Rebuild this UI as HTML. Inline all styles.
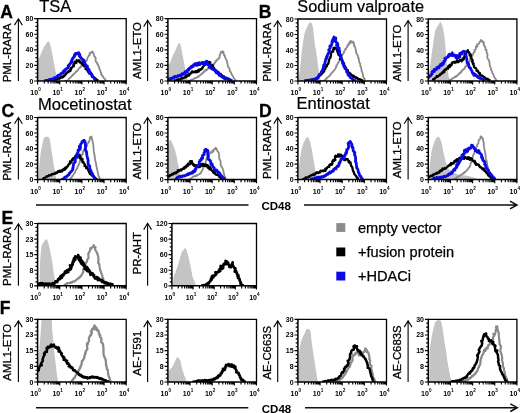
<!DOCTYPE html>
<html><head><meta charset="utf-8"><style>
html,body{margin:0;padding:0;background:#fff;}
svg{display:block;will-change:transform;filter:blur(0.3px);}
text{font-family:"Liberation Sans", sans-serif;}
.tl{font-size:7px;font-weight:bold;}
.sup{font-size:4.6px;font-weight:bold;}
.yl{font-size:11.4px;stroke:#000;stroke-width:0.3px;}
.big{font-size:16.5px;stroke:#000;stroke-width:0.2px;}
.let{font-size:17.5px;font-weight:bold;stroke:#000;stroke-width:0.3px;}
.lg{font-size:14.6px;stroke:#000;stroke-width:0.25px;}
.cd{font-size:11.5px;font-weight:bold;}
</style></head><body>
<svg width="520" height="413" viewBox="0 0 520 413">
<rect width="520" height="413" fill="#fff"/>
<clipPath id="c1"><rect x="37.60" y="18.60" width="88.60" height="62.40"/></clipPath>
<g clip-path="url(#c1)">
<path d="M37.6,81.0 L37.6,81.0 L38.0,58.7 L38.5,58.5 L38.9,58.4 L39.4,57.4 L39.8,56.5 L40.3,55.4 L40.7,54.4 L41.1,53.5 L41.6,51.7 L42.0,50.7 L42.5,50.5 L42.9,49.1 L43.4,48.6 L43.8,47.0 L44.2,46.6 L44.7,46.1 L45.1,45.0 L45.6,45.0 L46.0,44.4 L46.5,43.0 L46.9,42.3 L47.3,42.3 L47.8,42.3 L48.2,41.6 L48.7,41.6 L49.1,42.3 L49.6,42.7 L50.0,44.0 L50.4,45.5 L50.9,47.2 L51.3,49.0 L51.8,51.3 L52.2,53.7 L52.7,56.4 L53.1,58.6 L53.5,60.7 L54.0,63.7 L54.4,65.8 L54.9,68.2 L55.3,70.1 L55.8,72.7 L56.2,74.8 L56.6,76.7 L57.1,78.9 L57.5,81.0 L57.5,81.0 Z" fill="#c4c4c4"/>
<path d="M64.2,81.0 64.6,81.0 65.1,81.0 65.5,81.0 66.0,81.0 66.5,81.0 66.8,80.9 67.3,80.6 67.8,79.9 68.3,79.9 68.6,79.3 69.0,78.5 69.5,78.6 70.0,77.7 70.5,77.7 70.8,77.0 71.4,76.6 71.7,76.1 71.9,75.6 72.7,74.8 73.1,75.2 73.3,74.1 74.2,73.8 74.4,73.6 74.6,73.3 75.6,72.4 75.7,72.1 76.2,71.3 76.2,71.6 77.3,71.0 77.7,70.7 77.9,70.1 78.3,69.4 79.1,68.3 79.0,68.5 79.7,68.0 80.0,67.3 80.7,67.1 81.0,66.8 81.2,65.5 82.0,65.3 82.6,65.9 83.1,65.4 83.5,64.1 83.3,64.4 83.6,62.9 84.3,63.7 85.1,62.2 85.0,62.1 85.9,61.2 86.1,60.6 86.7,60.8 87.2,59.2 87.5,57.6 87.8,57.3 89.0,55.8 88.7,55.6 89.8,55.1 89.4,53.4 90.6,52.9 91.0,52.3 91.3,52.8 92.2,51.6 92.1,52.6 92.7,51.8 93.1,52.7 93.6,53.5 93.6,54.1 94.7,57.0 95.1,56.9 95.7,58.0 95.5,59.8 95.6,60.0 96.0,62.1 97.4,63.0 97.1,63.6 98.3,65.1 98.3,65.9 98.6,66.6 99.3,67.6 99.4,69.2 100.2,70.1 100.5,71.6 101.2,72.8 101.1,74.4 101.7,74.5 102.4,76.0 102.6,76.1 103.3,77.0 103.5,77.8 104.1,78.3 104.7,78.7 105.0,79.1 105.3,79.6 105.7,80.7 106.3,81.0" fill="none" stroke="#8a8a8a" stroke-width="1.8" stroke-linejoin="round"/>
<path d="M44.2,81.0 44.7,81.0 45.1,81.0 45.5,80.7 46.1,81.0 46.7,81.0 46.9,80.4 47.1,80.3 48.0,80.2 48.4,80.8 48.7,80.3 49.1,80.7 49.4,80.4 49.9,79.9 50.5,80.6 50.9,80.6 51.5,79.9 51.5,80.4 52.0,80.1 52.9,79.6 53.0,79.4 53.5,80.2 53.8,79.3 54.6,79.3 55.1,79.1 55.6,79.2 55.7,79.6 56.2,78.8 56.7,78.6 56.8,78.4 57.4,79.2 57.9,78.6 58.1,78.2 59.2,78.7 59.0,78.6 59.8,77.5 60.2,78.3 60.8,77.8 61.1,77.1 61.3,77.0 61.8,76.5 62.4,77.5 63.0,76.8 63.2,77.0 63.6,75.7 64.5,75.4 64.4,76.0 65.1,74.7 65.6,74.7 65.5,73.8 65.9,73.3 66.4,73.5 67.4,72.1 68.1,72.1 68.6,72.0 68.6,70.9 68.5,71.7 69.1,71.6 70.6,70.7 70.1,70.3 70.8,68.1 71.0,69.4 71.2,68.7 71.5,68.1 73.2,65.9 73.7,66.4 73.9,65.8 73.4,64.7 73.8,63.3 75.1,63.4 74.6,61.6 76.2,63.0 76.2,61.5 76.5,61.9 76.8,60.4 76.7,60.0 77.8,61.0 77.7,60.9 78.2,60.5 78.9,60.2 79.5,62.3 80.3,61.5 79.8,61.5 81.0,62.6 81.4,63.4 82.3,63.9 82.3,63.2 82.4,64.3 83.3,64.6 84.3,66.4 84.3,65.3 83.9,65.3 85.6,67.1 85.8,66.8 85.6,69.1 86.8,69.2 87.0,69.1 87.3,70.5 88.2,71.3 88.2,72.0 88.2,71.0 89.1,71.6 88.9,73.2 90.1,73.5 90.3,73.4 91.0,73.6 91.7,73.9 91.8,75.6 92.5,75.2 92.2,76.7 93.3,76.9 93.6,77.2 94.2,77.3 94.2,78.4 94.7,78.6 95.1,78.3 95.9,78.7 95.9,79.8 96.5,79.8 96.9,79.7 97.5,80.1 97.7,80.1 98.0,80.8" fill="none" stroke="#000" stroke-width="2.3" stroke-linejoin="round"/>
<path d="M44.2,81.0 44.8,81.0 45.0,81.0 45.6,80.5 46.1,80.4 46.6,80.3 47.1,80.8 47.4,80.9 48.0,80.3 48.3,80.5 48.5,80.0 49.3,79.6 49.7,79.5 50.3,79.8 50.7,79.9 50.9,79.2 51.2,79.5 51.7,79.3 51.9,79.2 52.6,78.9 53.0,78.6 53.7,78.9 54.1,78.4 54.3,78.1 54.7,77.5 55.6,77.9 55.8,77.8 56.2,77.8 56.6,77.3 57.5,76.9 57.3,76.0 58.0,76.1 58.0,75.3 58.8,75.0 59.6,74.7 60.0,74.6 60.4,74.7 60.9,73.7 61.2,73.6 61.4,73.2 62.1,72.9 62.7,73.1 63.1,72.6 63.4,72.2 63.5,71.0 64.6,71.3 64.2,70.6 65.0,70.8 65.0,69.7 66.3,69.4 66.2,68.8 66.2,68.8 67.9,68.0 67.6,67.9 68.3,67.3 68.2,65.6 68.7,66.5 70.0,63.8 69.7,64.1 70.7,63.2 71.1,61.5 71.8,62.1 71.9,60.0 72.3,59.0 73.1,57.8 72.8,58.8 74.3,56.0 74.5,56.5 75.0,53.9 74.5,55.0 75.7,53.9 75.2,54.3 75.6,53.5 76.5,54.2 77.4,54.0 77.1,53.2 77.3,53.3 78.7,52.7 79.2,53.9 79.6,54.2 79.4,56.2 80.0,55.2 79.9,57.0 80.3,56.9 82.1,58.7 81.1,58.2 82.9,60.1 83.0,61.4 83.8,60.2 84.0,60.2 84.0,60.7 84.4,62.3 84.6,62.1 85.4,64.4 85.5,64.5 86.1,65.5 87.4,66.1 86.6,67.9 88.1,68.4 88.0,68.3 89.1,69.9 89.4,70.5 89.0,72.1 89.4,73.2 90.5,72.5 90.6,73.1 91.2,73.9 92.0,75.5 91.7,75.0 92.2,76.6 92.7,76.5 93.1,76.8 94.0,78.0 94.5,78.6 94.7,79.2 95.5,79.7 95.5,80.3 96.3,80.3" fill="none" stroke="#0a0ae6" stroke-width="2.8" stroke-linejoin="round"/>
</g>
<path d="M37.60,18.60 H126.20 V81.00" fill="none" stroke="#000" stroke-width="1.3"/>
<path d="M37.60,18.10 V81.00 H126.70" fill="none" stroke="#000" stroke-width="1.5"/>
<path d="M34.20,81.00 H37.60 M35.40,77.10 H37.60 M35.40,73.20 H37.60 M35.40,69.30 H37.60 M34.20,65.40 H37.60 M35.40,61.50 H37.60 M35.40,57.60 H37.60 M35.40,53.70 H37.60 M34.20,49.80 H37.60 M35.40,45.90 H37.60 M35.40,42.00 H37.60 M35.40,38.10 H37.60 M34.20,34.20 H37.60 M35.40,30.30 H37.60 M35.40,26.40 H37.60 M35.40,22.50 H37.60 M34.20,18.60 H37.60 M37.60,81.00 V84.60 M44.27,81.00 V83.60 M48.17,81.00 V83.60 M50.94,81.00 V83.60 M53.08,81.00 V83.60 M54.84,81.00 V83.60 M56.32,81.00 V83.60 M57.60,81.00 V83.60 M58.74,81.00 V83.60 M59.75,81.00 V84.60 M66.42,81.00 V83.60 M70.32,81.00 V83.60 M73.09,81.00 V83.60 M75.23,81.00 V83.60 M76.99,81.00 V83.60 M78.47,81.00 V83.60 M79.75,81.00 V83.60 M80.89,81.00 V83.60 M81.90,81.00 V84.60 M88.57,81.00 V83.60 M92.47,81.00 V83.60 M95.24,81.00 V83.60 M97.38,81.00 V83.60 M99.14,81.00 V83.60 M100.62,81.00 V83.60 M101.90,81.00 V83.60 M103.04,81.00 V83.60 M104.05,81.00 V84.60 M110.72,81.00 V83.60 M114.62,81.00 V83.60 M117.39,81.00 V83.60 M119.53,81.00 V83.60 M121.29,81.00 V83.60 M122.77,81.00 V83.60 M124.05,81.00 V83.60 M125.19,81.00 V83.60 M126.20,81.00 V84.60" stroke="#000" stroke-width="1.15" fill="none"/>
<text x="33.30" y="83.50" text-anchor="end" class="tl">0</text>
<text x="33.30" y="67.90" text-anchor="end" class="tl">20</text>
<text x="33.30" y="52.30" text-anchor="end" class="tl">40</text>
<text x="33.30" y="36.70" text-anchor="end" class="tl">60</text>
<text x="33.30" y="21.10" text-anchor="end" class="tl">80</text>
<text x="38.10" y="94.90" text-anchor="end" class="tl">10</text>
<text x="38.20" y="91.10" class="sup">0</text>
<text x="60.25" y="94.90" text-anchor="end" class="tl">10</text>
<text x="60.35" y="91.10" class="sup">1</text>
<text x="82.40" y="94.90" text-anchor="end" class="tl">10</text>
<text x="82.50" y="91.10" class="sup">2</text>
<text x="104.55" y="94.90" text-anchor="end" class="tl">10</text>
<text x="104.65" y="91.10" class="sup">3</text>
<text x="126.70" y="94.90" text-anchor="end" class="tl">10</text>
<text x="126.80" y="91.10" class="sup">4</text>
<text transform="translate(11.10,52.80) rotate(-90)" text-anchor="middle" class="yl">PML-RARA</text>
<path d="M18.40,81.00 V18.80 M14.50,25.10 L18.40,18.80 L22.30,25.10" fill="none" stroke="#000" stroke-width="1.1"/>
<clipPath id="c2"><rect x="167.90" y="18.60" width="88.60" height="62.40"/></clipPath>
<g clip-path="url(#c2)">
<path d="M167.9,81.0 L167.9,75.5 L168.3,64.6 L168.8,63.4 L169.2,63.4 L169.7,63.7 L170.1,62.8 L170.6,61.6 L171.0,60.2 L171.4,59.3 L171.9,58.1 L172.3,56.9 L172.8,55.5 L173.2,54.7 L173.7,53.7 L174.1,53.1 L174.5,52.5 L175.0,51.6 L175.4,50.4 L175.9,49.4 L176.3,48.3 L176.8,47.0 L177.2,45.9 L177.6,45.2 L178.1,44.1 L178.5,43.3 L179.0,43.3 L179.4,42.9 L179.9,43.5 L180.3,44.3 L180.7,45.8 L181.2,47.9 L181.6,49.6 L182.1,52.1 L182.5,54.8 L183.0,56.9 L183.4,58.9 L183.8,61.8 L184.3,64.0 L184.7,66.2 L185.2,68.5 L185.6,70.5 L186.1,72.5 L186.5,74.2 L186.9,76.5 L187.4,78.7 L187.8,80.9 L187.8,81.0 Z" fill="#c4c4c4"/>
<path d="M187.8,81.0 188.4,81.0 188.7,80.7 189.3,80.6 189.7,80.5 190.2,80.2 190.5,80.4 191.1,80.0 191.4,80.0 191.8,79.5 192.1,79.6 192.6,79.5 193.1,79.3 193.7,79.1 194.0,78.6 194.5,78.5 194.8,78.1 195.5,78.0 195.6,77.9 196.3,77.8 196.6,77.7 196.9,77.4 197.5,77.1 198.2,76.5 198.5,76.2 198.8,76.5 199.5,75.7 199.9,75.6 200.2,75.0 200.8,74.8 201.4,74.3 201.7,73.9 201.9,73.4 202.2,73.8 203.0,72.7 203.0,72.4 203.5,72.6 204.1,71.1 204.8,71.4 205.0,70.4 205.5,69.9 206.2,70.5 206.6,70.3 207.0,70.0 207.1,69.1 207.6,69.0 208.2,68.0 208.4,68.7 209.0,68.0 209.2,67.6 209.8,67.8 210.4,67.0 210.9,65.8 210.9,65.6 211.5,65.1 212.3,64.8 213.1,65.0 213.5,65.3 213.5,63.8 214.1,63.4 214.7,63.5 214.6,63.2 215.3,62.3 215.3,61.2 215.8,61.4 216.4,61.4 216.7,59.9 217.2,59.6 217.9,59.5 218.6,58.5 219.3,57.6 219.5,58.0 219.7,55.9 219.7,54.9 220.6,53.6 220.6,52.1 221.4,52.2 222.4,51.2 222.2,51.6 222.7,52.8 223.5,52.0 223.5,53.1 224.3,55.5 224.6,55.2 225.0,57.0 225.6,57.9 225.7,58.9 226.8,60.8 227.1,61.7 227.3,63.3 227.7,65.1 228.1,66.9 228.3,67.2 229.3,68.2 229.8,69.9 229.6,70.9 230.6,71.7 230.8,72.6 231.2,73.0 231.6,74.3 232.1,74.8 232.7,76.0 233.2,76.8 233.3,77.1 233.8,78.0 234.4,78.7 234.8,79.7 235.1,80.2 235.9,80.3 236.1,80.5 236.6,81.0" fill="none" stroke="#8a8a8a" stroke-width="1.8" stroke-linejoin="round"/>
<path d="M174.5,81.0 174.8,80.5 175.7,81.0 175.7,80.7 176.2,80.2 176.9,80.4 177.2,80.1 177.7,79.6 178.2,80.2 178.5,79.3 178.8,79.7 179.4,79.7 179.8,79.4 180.5,79.5 180.5,78.9 180.9,78.6 181.9,78.6 182.1,77.9 182.5,78.1 183.3,78.1 183.4,77.9 183.7,78.1 184.4,77.6 185.0,77.4 185.3,76.4 185.8,76.5 186.2,77.1 186.5,75.4 187.3,76.2 187.7,75.9 188.3,74.6 188.4,75.5 189.1,75.5 189.5,73.8 189.3,74.7 190.1,74.3 190.8,72.9 191.1,72.5 191.1,72.8 191.8,72.8 192.8,71.8 192.1,71.4 193.6,72.1 193.9,72.4 194.3,72.0 194.2,71.7 194.3,72.0 195.7,71.1 196.1,71.3 196.1,72.4 197.1,72.1 196.7,72.3 197.4,70.6 197.8,71.0 198.5,69.8 198.7,71.6 199.2,70.4 200.3,69.9 200.4,69.2 200.7,69.3 200.5,69.9 201.3,69.3 202.4,68.4 202.3,67.8 202.3,67.7 203.2,66.5 204.3,65.5 204.4,65.5 204.3,63.6 204.7,63.4 206.3,62.5 206.5,61.7 206.2,62.1 206.2,61.7 206.8,61.9 207.4,61.9 208.9,63.1 208.9,62.1 208.8,63.7 209.1,61.8 210.3,62.5 210.2,63.4 210.5,65.0 211.5,65.6 212.3,65.1 212.8,65.5 212.6,67.6 213.8,67.7 213.9,68.7 214.6,69.9 215.1,70.3 215.0,69.9 215.1,71.2 215.3,71.1 216.0,72.7 217.1,72.0 217.6,71.8 217.0,72.1 217.8,72.8 218.8,74.2 218.8,74.3 219.0,74.2 219.6,75.0 220.3,74.3 220.4,74.4 220.7,76.0 221.2,75.0 221.9,75.4 222.2,75.7 222.6,75.9 223.1,76.7 223.9,76.6 223.9,76.4 224.5,77.6 224.8,77.7 225.8,77.6 226.1,77.6 226.3,78.1 226.7,78.8 227.3,78.4 227.9,78.5 228.2,79.0 228.9,79.2 229.2,79.9 229.4,79.8 229.7,80.2 230.6,80.1 231.0,80.5" fill="none" stroke="#000" stroke-width="2.3" stroke-linejoin="round"/>
<path d="M168.1,80.4 168.2,79.4 168.5,79.8 169.1,79.0 169.5,78.8 169.9,79.2 170.7,79.3 171.3,78.1 171.4,78.2 171.6,78.4 172.0,78.2 173.1,77.6 173.2,78.3 174.0,77.9 174.1,77.0 174.2,76.8 174.7,76.6 175.2,76.4 176.0,76.7 176.7,77.2 176.8,76.9 176.9,77.0 178.0,75.6 177.8,76.3 178.3,75.7 178.9,75.6 179.7,75.4 179.9,75.9 180.1,75.2 181.3,75.5 181.4,74.4 181.8,75.0 182.1,73.6 182.2,73.7 183.1,74.2 183.7,74.1 183.8,74.0 184.6,72.4 185.2,73.8 184.6,73.0 185.1,71.8 186.1,72.3 187.1,70.9 187.5,72.2 187.1,70.5 188.3,69.3 187.9,70.1 188.8,70.1 189.0,68.3 189.5,68.7 189.4,68.2 190.1,67.9 190.5,68.2 191.4,66.3 191.9,66.1 191.8,67.3 193.0,66.6 193.1,66.4 193.3,65.2 193.6,65.0 194.4,64.0 194.9,63.9 195.0,64.7 196.0,63.5 195.8,65.3 197.0,64.5 197.4,65.2 197.1,63.5 197.7,65.0 199.1,62.6 198.6,63.1 198.9,63.4 199.5,64.5 200.1,63.6 199.9,64.7 200.5,63.9 201.7,62.6 201.3,63.2 203.2,63.7 202.9,63.8 204.0,64.2 203.4,62.3 204.9,64.5 205.0,62.3 205.3,64.1 205.6,63.5 205.5,62.0 206.7,61.2 207.1,61.5 207.2,62.6 207.6,64.8 208.0,64.1 208.2,64.1 209.6,65.7 210.3,65.0 209.2,67.2 210.3,67.7 210.2,67.6 211.3,68.0 211.9,69.0 212.6,69.2 211.9,68.2 212.5,69.2 213.3,68.7 214.1,70.0 215.1,70.6 214.9,69.6 215.5,69.9 215.2,71.1 216.4,71.1 217.2,71.9 216.9,72.0 217.7,73.5 218.3,72.2 219.0,73.1 219.2,74.0 219.3,74.8 219.2,75.3 220.6,74.5 220.8,74.2 221.3,76.3 221.1,76.4 222.1,76.3 222.3,76.5 222.5,77.3 223.4,76.5 224.0,78.2 224.0,78.0 224.2,78.5 225.3,77.9 225.4,78.8 225.7,79.0 226.1,78.7 226.6,78.4 227.2,78.3 227.6,79.0 227.9,79.2 228.6,79.2 229.3,79.3 229.4,79.2 229.8,79.7 230.4,80.4 230.8,80.2 231.5,80.4 231.8,81.0 232.1,81.0" fill="none" stroke="#0a0ae6" stroke-width="2.8" stroke-linejoin="round"/>
</g>
<path d="M167.90,18.60 H256.50 V81.00" fill="none" stroke="#000" stroke-width="1.3"/>
<path d="M167.90,18.10 V81.00 H257.00" fill="none" stroke="#000" stroke-width="1.5"/>
<path d="M164.50,81.00 H167.90 M165.70,77.10 H167.90 M165.70,73.20 H167.90 M165.70,69.30 H167.90 M164.50,65.40 H167.90 M165.70,61.50 H167.90 M165.70,57.60 H167.90 M165.70,53.70 H167.90 M164.50,49.80 H167.90 M165.70,45.90 H167.90 M165.70,42.00 H167.90 M165.70,38.10 H167.90 M164.50,34.20 H167.90 M165.70,30.30 H167.90 M165.70,26.40 H167.90 M165.70,22.50 H167.90 M164.50,18.60 H167.90 M167.90,81.00 V84.60 M174.57,81.00 V83.60 M178.47,81.00 V83.60 M181.24,81.00 V83.60 M183.38,81.00 V83.60 M185.14,81.00 V83.60 M186.62,81.00 V83.60 M187.90,81.00 V83.60 M189.04,81.00 V83.60 M190.05,81.00 V84.60 M196.72,81.00 V83.60 M200.62,81.00 V83.60 M203.39,81.00 V83.60 M205.53,81.00 V83.60 M207.29,81.00 V83.60 M208.77,81.00 V83.60 M210.05,81.00 V83.60 M211.19,81.00 V83.60 M212.20,81.00 V84.60 M218.87,81.00 V83.60 M222.77,81.00 V83.60 M225.54,81.00 V83.60 M227.68,81.00 V83.60 M229.44,81.00 V83.60 M230.92,81.00 V83.60 M232.20,81.00 V83.60 M233.34,81.00 V83.60 M234.35,81.00 V84.60 M241.02,81.00 V83.60 M244.92,81.00 V83.60 M247.69,81.00 V83.60 M249.83,81.00 V83.60 M251.59,81.00 V83.60 M253.07,81.00 V83.60 M254.35,81.00 V83.60 M255.49,81.00 V83.60 M256.50,81.00 V84.60" stroke="#000" stroke-width="1.15" fill="none"/>
<text x="163.60" y="83.50" text-anchor="end" class="tl">0</text>
<text x="163.60" y="67.90" text-anchor="end" class="tl">20</text>
<text x="163.60" y="52.30" text-anchor="end" class="tl">40</text>
<text x="163.60" y="36.70" text-anchor="end" class="tl">60</text>
<text x="163.60" y="21.10" text-anchor="end" class="tl">80</text>
<text x="168.40" y="94.90" text-anchor="end" class="tl">10</text>
<text x="168.50" y="91.10" class="sup">0</text>
<text x="190.55" y="94.90" text-anchor="end" class="tl">10</text>
<text x="190.65" y="91.10" class="sup">1</text>
<text x="212.70" y="94.90" text-anchor="end" class="tl">10</text>
<text x="212.80" y="91.10" class="sup">2</text>
<text x="234.85" y="94.90" text-anchor="end" class="tl">10</text>
<text x="234.95" y="91.10" class="sup">3</text>
<text x="257.00" y="94.90" text-anchor="end" class="tl">10</text>
<text x="257.10" y="91.10" class="sup">4</text>
<text transform="translate(141.00,50.50) rotate(-90)" text-anchor="middle" class="yl">AML1-ETO</text>
<path d="M147.60,81.00 V20.30 M143.70,26.60 L147.60,20.30 L151.50,26.60" fill="none" stroke="#000" stroke-width="1.1"/>
<clipPath id="c3"><rect x="297.90" y="19.00" width="88.60" height="62.00"/></clipPath>
<g clip-path="url(#c3)">
<path d="M298.8,81.0 L298.8,81.0 L299.2,73.3 L299.7,71.1 L300.1,67.4 L300.6,63.3 L301.0,59.1 L301.4,54.5 L301.9,50.6 L302.3,47.8 L302.8,44.0 L303.2,40.8 L303.7,38.7 L304.1,35.8 L304.5,34.1 L305.0,32.1 L305.4,30.8 L305.9,29.2 L306.3,28.7 L306.8,28.0 L307.2,26.8 L307.6,26.2 L308.1,25.3 L308.5,23.9 L309.0,23.9 L309.4,23.1 L309.9,22.3 L310.3,21.7 L310.7,22.5 L311.2,22.4 L311.6,23.2 L312.1,24.4 L312.5,25.7 L313.0,27.9 L313.4,30.6 L313.8,35.5 L314.3,39.6 L314.7,43.4 L315.2,46.3 L315.6,48.3 L316.1,51.0 L316.5,53.8 L316.9,57.3 L317.4,60.3 L317.8,64.2 L318.3,67.7 L318.7,70.7 L319.2,73.1 L319.6,75.1 L320.1,77.2 L320.5,78.9 L320.9,80.4 L320.9,81.0 Z" fill="#c4c4c4"/>
<path d="M320.0,81.0 320.5,81.0 320.9,81.0 321.4,81.0 321.8,81.0 322.3,81.0 322.7,81.0 323.3,81.0 323.8,80.9 323.9,80.5 324.7,80.3 324.9,80.0 325.3,79.5 325.8,79.2 326.1,78.5 326.9,78.5 327.3,77.6 327.4,77.4 328.1,76.9 328.3,76.9 328.7,76.3 329.3,75.9 330.0,75.6 330.5,74.8 330.5,74.2 330.9,74.0 331.5,73.1 331.8,73.0 332.7,71.9 333.2,71.6 333.3,71.6 333.8,70.6 334.3,70.1 334.8,69.4 335.1,69.1 335.7,67.8 335.9,66.8 336.5,66.9 336.5,65.5 337.4,64.5 337.9,63.1 337.8,63.1 338.6,62.2 339.0,61.4 339.8,60.6 339.6,58.7 340.9,58.9 340.8,57.4 341.1,57.1 341.6,56.0 342.3,55.2 342.5,54.3 342.6,54.3 343.8,53.1 343.7,51.9 344.1,51.9 344.8,50.0 344.9,50.2 345.6,48.7 346.1,48.9 346.3,48.2 347.2,46.5 347.5,46.8 347.5,44.9 348.1,44.8 349.2,44.5 349.0,42.7 349.9,43.2 350.0,42.7 350.4,41.0 350.8,42.0 351.4,41.2 351.8,41.5 352.0,42.8 353.3,41.7 353.8,43.9 354.2,43.9 353.9,45.7 355.0,46.4 355.1,47.4 355.3,47.9 355.5,49.1 356.1,51.2 356.3,53.1 357.5,54.9 358.1,56.5 358.2,58.1 358.8,58.4 358.9,60.3 359.5,62.7 360.3,64.0 360.2,65.9 361.1,67.2 361.4,69.2 361.5,70.7 362.3,72.6 362.7,73.8 363.2,75.9 363.3,77.1 364.0,78.0 364.3,78.6 364.8,79.6 365.2,80.5" fill="none" stroke="#8a8a8a" stroke-width="1.8" stroke-linejoin="round"/>
<path d="M304.5,81.0 304.7,81.0 305.2,80.5 305.6,80.5 306.5,81.0 306.8,80.3 307.1,80.4 307.7,80.4 308.0,80.5 308.4,80.1 309.0,80.0 309.4,80.5 309.7,79.8 310.4,80.0 310.7,80.3 311.3,80.2 311.6,79.8 312.2,79.8 312.6,79.6 312.8,79.5 313.5,79.5 313.8,78.9 314.5,79.1 314.7,79.4 315.3,79.2 315.6,78.4 316.2,78.0 316.7,78.2 317.0,78.1 317.4,77.7 317.9,76.7 318.0,76.3 318.4,76.8 318.9,75.6 319.4,76.2 320.3,74.7 320.8,74.4 321.2,74.7 321.4,74.7 321.4,74.0 322.3,73.4 322.3,72.8 323.6,72.3 323.4,70.6 324.4,70.8 324.1,69.5 325.0,68.8 325.2,69.0 325.7,67.5 326.2,66.6 326.7,65.2 327.0,66.2 327.1,64.7 328.4,63.6 328.5,62.4 329.1,60.7 328.8,60.4 330.2,57.2 330.3,58.0 331.0,55.5 330.8,53.6 331.7,52.4 331.6,51.7 333.2,51.7 333.2,49.7 333.9,49.3 333.4,49.2 333.5,47.9 334.5,48.4 334.9,47.6 336.0,48.3 336.8,48.3 336.6,49.7 337.4,50.4 337.4,52.1 338.1,52.2 338.1,54.1 339.4,54.8 338.7,55.2 339.9,55.6 340.7,57.8 340.0,59.2 340.5,58.5 341.6,59.3 342.3,61.7 342.7,61.1 342.5,62.0 342.5,63.8 344.0,63.3 343.8,64.5 344.6,66.0 344.7,65.6 345.3,67.3 345.8,67.7 346.1,69.8 346.2,69.7 347.2,69.9 347.9,70.3 347.6,72.1 348.3,72.7 349.1,72.9 349.4,72.6 350.0,73.6 350.4,73.4 350.8,74.8 350.7,74.5 351.4,74.8 352.1,75.4 352.2,75.5 352.9,75.9 353.5,75.7 353.5,76.5 353.9,77.1 354.7,76.7 355.1,77.3 355.5,77.6 355.7,77.5 356.5,77.4 356.8,78.3 357.2,78.5 357.6,78.2 357.9,79.0 358.5,78.9 359.0,79.3 359.4,79.1 360.1,79.5 360.6,79.5 360.7,79.5 361.0,79.7 361.8,80.5 362.0,80.2 362.7,80.6 363.2,81.0" fill="none" stroke="#000" stroke-width="2.3" stroke-linejoin="round"/>
<path d="M304.5,81.0 304.8,81.0 305.3,80.8 305.9,80.9 306.2,80.5 306.5,81.0 307.4,81.0 307.6,81.0 308.1,80.7 308.8,80.7 308.9,80.7 309.4,80.8 310.0,80.5 310.5,79.9 310.7,80.5 311.2,80.2 311.7,79.8 312.1,79.6 312.5,80.2 313.2,80.0 313.2,80.3 313.9,80.1 314.2,79.3 314.5,79.3 315.4,79.5 315.8,79.1 315.8,79.2 316.6,79.0 317.1,78.7 317.3,78.1 318.1,77.7 318.2,77.3 318.7,76.6 318.9,75.3 319.4,74.6 320.0,74.0 320.5,73.9 321.1,72.8 321.3,71.8 321.7,71.6 322.7,69.8 322.6,69.7 323.2,68.1 323.3,67.4 323.7,65.2 324.1,65.6 324.6,63.9 325.0,62.2 325.4,61.4 325.7,59.3 326.7,58.3 326.5,56.7 327.4,56.2 327.3,55.5 328.3,53.3 329.6,50.9 328.7,50.0 329.2,49.4 330.0,48.6 329.9,46.0 330.7,46.5 331.5,45.3 331.7,44.4 332.1,41.2 333.1,41.6 332.7,39.3 334.6,39.5 333.4,38.8 334.0,37.0 334.3,37.7 335.8,37.9 335.5,41.2 336.4,42.5 337.6,43.3 336.5,45.2 337.9,44.9 337.5,48.3 339.2,48.1 338.9,49.1 339.8,51.2 339.5,54.1 340.8,54.9 341.0,56.5 341.1,58.1 341.4,58.3 342.2,60.5 342.2,60.8 343.2,63.1 343.4,64.3 343.6,65.1 343.9,66.7 345.1,67.3 344.9,68.7 346.1,69.0 346.6,70.6 346.6,71.9 347.3,72.7 347.4,72.8 347.9,73.2 348.1,75.1 348.6,75.3 349.4,75.4 349.4,76.2 350.3,76.7 350.3,77.6 351.3,77.7 351.5,78.1 352.1,78.7 352.6,79.2 352.6,79.5 353.0,79.5 353.5,80.5 354.4,80.1 354.8,80.5 355.0,80.5 355.5,81.0" fill="none" stroke="#0a0ae6" stroke-width="2.8" stroke-linejoin="round"/>
</g>
<path d="M297.90,19.00 H386.50 V81.00" fill="none" stroke="#000" stroke-width="1.3"/>
<path d="M297.90,18.50 V81.00 H387.00" fill="none" stroke="#000" stroke-width="1.5"/>
<path d="M294.50,81.00 H297.90 M295.70,77.12 H297.90 M295.70,73.25 H297.90 M295.70,69.38 H297.90 M294.50,65.50 H297.90 M295.70,61.62 H297.90 M295.70,57.75 H297.90 M295.70,53.88 H297.90 M294.50,50.00 H297.90 M295.70,46.12 H297.90 M295.70,42.25 H297.90 M295.70,38.38 H297.90 M294.50,34.50 H297.90 M295.70,30.62 H297.90 M295.70,26.75 H297.90 M295.70,22.88 H297.90 M294.50,19.00 H297.90 M297.90,81.00 V84.60 M304.57,81.00 V83.60 M308.47,81.00 V83.60 M311.24,81.00 V83.60 M313.38,81.00 V83.60 M315.14,81.00 V83.60 M316.62,81.00 V83.60 M317.90,81.00 V83.60 M319.04,81.00 V83.60 M320.05,81.00 V84.60 M326.72,81.00 V83.60 M330.62,81.00 V83.60 M333.39,81.00 V83.60 M335.53,81.00 V83.60 M337.29,81.00 V83.60 M338.77,81.00 V83.60 M340.05,81.00 V83.60 M341.19,81.00 V83.60 M342.20,81.00 V84.60 M348.87,81.00 V83.60 M352.77,81.00 V83.60 M355.54,81.00 V83.60 M357.68,81.00 V83.60 M359.44,81.00 V83.60 M360.92,81.00 V83.60 M362.20,81.00 V83.60 M363.34,81.00 V83.60 M364.35,81.00 V84.60 M371.02,81.00 V83.60 M374.92,81.00 V83.60 M377.69,81.00 V83.60 M379.83,81.00 V83.60 M381.59,81.00 V83.60 M383.07,81.00 V83.60 M384.35,81.00 V83.60 M385.49,81.00 V83.60 M386.50,81.00 V84.60" stroke="#000" stroke-width="1.15" fill="none"/>
<text x="293.60" y="83.50" text-anchor="end" class="tl">0</text>
<text x="293.60" y="68.00" text-anchor="end" class="tl">20</text>
<text x="293.60" y="52.50" text-anchor="end" class="tl">40</text>
<text x="293.60" y="37.00" text-anchor="end" class="tl">60</text>
<text x="293.60" y="21.50" text-anchor="end" class="tl">80</text>
<text x="298.40" y="94.90" text-anchor="end" class="tl">10</text>
<text x="298.50" y="91.10" class="sup">0</text>
<text x="320.55" y="94.90" text-anchor="end" class="tl">10</text>
<text x="320.65" y="91.10" class="sup">1</text>
<text x="342.70" y="94.90" text-anchor="end" class="tl">10</text>
<text x="342.80" y="91.10" class="sup">2</text>
<text x="364.85" y="94.90" text-anchor="end" class="tl">10</text>
<text x="364.95" y="91.10" class="sup">3</text>
<text x="387.00" y="94.90" text-anchor="end" class="tl">10</text>
<text x="387.10" y="91.10" class="sup">4</text>
<text transform="translate(271.00,52.20) rotate(-90)" text-anchor="middle" class="yl">PML-RARA</text>
<path d="M277.70,81.00 V20.75 M273.80,27.05 L277.70,20.75 L281.60,27.05" fill="none" stroke="#000" stroke-width="1.1"/>
<clipPath id="c4"><rect x="428.30" y="19.00" width="88.60" height="62.00"/></clipPath>
<g clip-path="url(#c4)">
<path d="M429.0,81.0 L429.0,81.0 L429.4,71.6 L429.9,67.7 L430.3,64.8 L430.7,61.4 L431.2,57.6 L431.6,54.0 L432.1,51.1 L432.5,48.0 L433.0,45.0 L433.4,41.5 L433.8,39.0 L434.3,36.1 L434.7,33.5 L435.2,31.2 L435.6,29.5 L436.1,28.9 L436.5,27.9 L436.9,27.2 L437.4,26.6 L437.8,25.5 L438.3,25.0 L438.7,24.5 L439.2,23.6 L439.6,22.8 L440.0,22.3 L440.5,21.5 L440.9,22.6 L441.4,23.5 L441.8,24.5 L442.3,25.6 L442.7,27.4 L443.1,28.7 L443.6,31.5 L444.0,33.8 L444.5,36.8 L444.9,41.0 L445.4,46.5 L445.8,51.5 L446.2,57.3 L446.7,61.6 L447.1,65.2 L447.6,68.7 L448.0,72.1 L448.5,75.0 L448.9,77.4 L449.3,79.3 L449.8,81.0 L449.8,81.0 Z" fill="#c4c4c4"/>
<path d="M448.2,81.0 448.5,80.9 449.2,80.2 449.6,80.1 449.9,80.0 450.3,80.1 450.8,79.4 451.3,79.3 451.9,78.9 452.2,78.6 452.5,78.7 453.0,78.0 453.6,78.1 453.9,77.5 454.4,77.2 455.0,76.8 455.5,77.1 456.0,76.7 456.1,75.9 456.8,76.3 457.3,75.5 457.7,75.3 457.8,74.7 458.2,74.4 459.1,74.0 459.1,73.6 459.6,72.9 460.1,73.2 460.4,72.3 461.0,72.5 461.3,71.3 461.8,70.7 462.2,70.9 462.8,69.7 463.6,69.4 463.8,68.8 464.1,69.0 464.6,68.7 465.0,67.2 465.5,66.4 466.2,66.0 466.4,66.1 466.6,64.4 467.1,64.0 468.0,63.2 467.8,62.4 468.7,62.7 469.0,62.0 469.6,61.1 470.2,60.2 470.0,58.9 471.2,57.7 471.7,58.0 471.9,56.2 472.3,56.1 472.6,55.2 473.2,54.0 473.9,52.4 473.5,52.7 474.9,51.7 474.3,50.3 474.9,49.8 475.9,49.0 475.8,46.5 476.7,46.8 477.5,46.2 476.9,44.5 477.4,45.0 477.9,44.2 479.1,43.4 479.3,42.9 479.4,42.4 479.9,41.5 480.9,41.6 481.0,40.7 481.0,39.8 481.9,41.1 482.5,41.9 482.6,41.1 483.3,43.0 484.0,42.5 483.7,44.9 484.4,45.4 484.8,47.0 485.4,47.2 485.5,49.9 486.5,49.9 486.8,53.1 487.6,54.3 487.2,56.8 487.8,58.9 488.8,59.8 489.2,61.6 489.7,62.9 489.6,64.6 490.2,66.6 491.0,68.2 490.9,69.8 491.7,70.7 492.2,72.1 492.3,73.2 493.2,74.1 493.5,75.1 493.9,76.5 494.3,77.2 494.9,77.8 495.3,78.6 495.8,79.2 496.1,80.1 496.4,80.4 497.0,81.0" fill="none" stroke="#8a8a8a" stroke-width="1.8" stroke-linejoin="round"/>
<path d="M432.7,80.5 433.0,80.0 433.4,79.0 433.9,79.3 434.4,79.0 434.9,78.3 435.2,78.0 436.1,77.5 436.4,76.9 436.6,76.7 436.8,76.0 437.8,76.8 438.3,76.3 438.2,76.2 438.9,75.4 439.7,75.1 440.2,75.0 440.4,73.8 440.9,74.2 441.4,73.8 442.0,73.0 442.1,72.7 442.7,73.1 442.7,71.8 443.5,71.4 444.2,72.1 444.1,70.7 444.5,71.0 444.6,69.9 445.6,69.1 446.1,69.6 447.0,68.6 446.5,68.7 447.9,67.2 448.3,68.6 448.0,67.4 448.4,66.0 449.7,65.9 449.9,66.9 449.7,65.0 451.0,64.9 451.3,64.2 451.4,65.0 451.5,65.3 451.8,63.9 452.0,62.6 452.6,62.8 454.2,61.8 454.5,62.1 454.8,62.7 455.5,62.4 455.6,62.6 456.0,61.7 456.3,61.9 456.2,61.3 457.1,62.0 457.1,60.1 457.6,62.1 458.7,60.9 458.6,62.0 459.2,60.8 460.3,59.9 460.9,59.8 460.1,59.9 461.6,61.4 461.6,59.6 462.3,59.8 462.9,58.4 463.2,59.8 464.0,58.8 464.3,56.4 464.3,56.6 464.8,53.7 464.8,54.8 466.1,53.2 465.2,52.3 466.0,51.7 467.1,51.9 467.9,50.3 467.5,51.2 468.8,52.0 469.2,52.8 469.4,52.9 469.5,53.7 469.7,55.7 470.7,54.4 470.9,56.5 470.9,57.7 471.1,57.8 472.8,60.5 472.0,61.5 473.5,63.5 472.8,63.7 474.1,65.6 473.8,66.2 474.2,67.4 474.8,67.8 476.1,68.3 476.5,69.7 476.5,69.6 476.5,70.8 478.0,71.0 478.3,72.2 478.5,72.0 479.0,73.3 479.0,73.2 480.0,73.1 479.9,74.9 480.5,75.1 481.3,75.3 481.6,75.3 481.9,75.7 482.2,75.8 483.1,76.4 483.4,76.6 484.0,76.8 483.9,77.2 484.8,77.5 485.2,78.2 485.2,78.3 485.9,78.3 486.2,79.2 487.0,78.7 487.5,78.8 487.7,79.3 488.3,79.9 488.7,79.6 489.1,80.0 489.6,80.1 489.7,80.5 490.3,81.0" fill="none" stroke="#000" stroke-width="2.3" stroke-linejoin="round"/>
<path d="M428.2,77.4 429.1,77.1 429.1,76.8 429.4,76.7 430.5,75.1 430.7,75.6 430.5,75.1 431.6,74.4 432.2,73.5 432.0,72.0 432.7,71.5 433.2,71.7 433.9,70.9 434.4,71.4 434.1,69.4 434.6,69.4 435.0,69.7 435.6,69.5 436.5,68.6 436.3,69.5 437.8,67.9 437.0,67.3 438.5,66.9 439.1,67.8 438.3,66.9 439.7,66.2 439.3,66.0 440.2,65.6 440.6,65.2 440.5,64.3 441.9,65.4 441.5,64.1 442.6,63.2 442.9,64.2 443.4,63.8 444.0,61.1 444.4,61.6 443.9,61.3 445.6,59.8 444.8,58.4 445.7,57.9 446.2,58.1 446.4,58.1 447.6,56.7 448.6,56.6 447.8,57.1 448.7,54.9 448.9,55.0 449.1,55.5 449.4,54.1 450.6,55.1 450.3,55.2 451.5,54.5 452.3,52.8 451.5,55.3 453.1,55.7 453.2,55.1 452.8,54.5 454.6,55.4 454.4,55.0 455.2,55.5 456.0,57.7 455.6,56.1 456.3,55.5 457.2,57.9 457.0,55.8 457.4,55.7 457.6,57.8 459.2,57.4 458.4,56.9 460.0,56.9 458.9,56.7 459.8,53.5 460.5,54.5 461.3,52.8 461.7,54.0 462.1,53.2 461.7,53.3 462.2,52.3 463.7,51.2 463.5,51.8 464.3,51.8 464.9,51.7 465.8,52.2 466.0,53.4 465.8,55.6 466.2,56.3 466.9,59.7 466.9,61.1 467.2,62.9 468.4,63.7 468.7,64.9 468.6,65.9 469.7,67.7 470.5,68.1 470.2,68.4 470.6,68.9 471.1,69.8 471.7,70.4 472.0,71.4 472.4,72.8 473.3,73.8 473.8,73.5 473.6,73.8 473.9,75.4 475.1,74.2 475.4,74.6 475.5,75.7 476.5,75.5 476.4,76.0 477.2,76.3 477.2,76.4 477.6,77.2 478.0,76.5 478.8,77.9 479.3,77.8 479.6,78.2 480.2,77.8 480.5,77.7 481.1,78.7 481.7,78.7 482.0,78.9 482.1,79.1 482.6,79.4 483.1,79.4 483.6,79.8 484.3,80.7 484.5,81.0" fill="none" stroke="#0a0ae6" stroke-width="2.8" stroke-linejoin="round"/>
</g>
<path d="M428.30,19.00 H516.90 V81.00" fill="none" stroke="#000" stroke-width="1.3"/>
<path d="M428.30,18.50 V81.00 H517.40" fill="none" stroke="#000" stroke-width="1.5"/>
<path d="M424.90,81.00 H428.30 M426.10,77.12 H428.30 M426.10,73.25 H428.30 M426.10,69.38 H428.30 M424.90,65.50 H428.30 M426.10,61.62 H428.30 M426.10,57.75 H428.30 M426.10,53.88 H428.30 M424.90,50.00 H428.30 M426.10,46.12 H428.30 M426.10,42.25 H428.30 M426.10,38.38 H428.30 M424.90,34.50 H428.30 M426.10,30.62 H428.30 M426.10,26.75 H428.30 M426.10,22.88 H428.30 M424.90,19.00 H428.30 M428.30,81.00 V84.60 M434.97,81.00 V83.60 M438.87,81.00 V83.60 M441.64,81.00 V83.60 M443.78,81.00 V83.60 M445.54,81.00 V83.60 M447.02,81.00 V83.60 M448.30,81.00 V83.60 M449.44,81.00 V83.60 M450.45,81.00 V84.60 M457.12,81.00 V83.60 M461.02,81.00 V83.60 M463.79,81.00 V83.60 M465.93,81.00 V83.60 M467.69,81.00 V83.60 M469.17,81.00 V83.60 M470.45,81.00 V83.60 M471.59,81.00 V83.60 M472.60,81.00 V84.60 M479.27,81.00 V83.60 M483.17,81.00 V83.60 M485.94,81.00 V83.60 M488.08,81.00 V83.60 M489.84,81.00 V83.60 M491.32,81.00 V83.60 M492.60,81.00 V83.60 M493.74,81.00 V83.60 M494.75,81.00 V84.60 M501.42,81.00 V83.60 M505.32,81.00 V83.60 M508.09,81.00 V83.60 M510.23,81.00 V83.60 M511.99,81.00 V83.60 M513.47,81.00 V83.60 M514.75,81.00 V83.60 M515.89,81.00 V83.60 M516.90,81.00 V84.60" stroke="#000" stroke-width="1.15" fill="none"/>
<text x="424.00" y="83.50" text-anchor="end" class="tl">0</text>
<text x="424.00" y="68.00" text-anchor="end" class="tl">20</text>
<text x="424.00" y="52.50" text-anchor="end" class="tl">40</text>
<text x="424.00" y="37.00" text-anchor="end" class="tl">60</text>
<text x="424.00" y="21.50" text-anchor="end" class="tl">80</text>
<text x="428.80" y="94.90" text-anchor="end" class="tl">10</text>
<text x="428.90" y="91.10" class="sup">0</text>
<text x="450.95" y="94.90" text-anchor="end" class="tl">10</text>
<text x="451.05" y="91.10" class="sup">1</text>
<text x="473.10" y="94.90" text-anchor="end" class="tl">10</text>
<text x="473.20" y="91.10" class="sup">2</text>
<text x="495.25" y="94.90" text-anchor="end" class="tl">10</text>
<text x="495.35" y="91.10" class="sup">3</text>
<text x="517.40" y="94.90" text-anchor="end" class="tl">10</text>
<text x="517.50" y="91.10" class="sup">4</text>
<text transform="translate(401.20,53.10) rotate(-90)" text-anchor="middle" class="yl">AML1-ETO</text>
<path d="M408.10,81.00 V20.50 M404.20,26.80 L408.10,20.50 L412.00,26.80" fill="none" stroke="#000" stroke-width="1.1"/>
<clipPath id="c5"><rect x="37.60" y="117.50" width="88.60" height="62.10"/></clipPath>
<g clip-path="url(#c5)">
<path d="M38.5,179.6 L38.5,179.6 L38.9,170.4 L39.4,165.7 L39.8,160.8 L40.3,156.5 L40.7,152.7 L41.1,150.1 L41.6,146.9 L42.0,145.2 L42.5,143.8 L42.9,141.7 L43.4,140.0 L43.8,137.9 L44.2,137.8 L44.7,137.3 L45.1,137.3 L45.6,137.1 L46.0,136.4 L46.5,136.4 L46.9,136.4 L47.3,137.0 L47.8,136.9 L48.2,136.4 L48.7,137.4 L49.1,137.3 L49.6,138.9 L50.0,140.2 L50.4,142.6 L50.9,146.7 L51.3,149.2 L51.8,151.9 L52.2,155.3 L52.7,158.1 L53.1,160.5 L53.5,163.8 L54.0,166.2 L54.4,169.0 L54.9,171.5 L55.3,174.3 L55.8,176.5 L56.2,178.7 L56.2,179.6 Z" fill="#c4c4c4"/>
<path d="M69.7,179.6 70.1,179.4 70.5,178.6 70.9,178.0 71.5,177.5 72.0,176.6 72.3,176.2 72.8,175.8 73.3,174.8 73.5,174.3 73.9,173.8 74.8,172.9 75.2,171.6 75.5,171.1 75.7,169.9 76.6,169.2 77.0,168.3 77.5,168.1 77.6,166.5 78.3,165.7 78.8,164.2 79.3,164.0 79.8,161.9 79.8,160.9 80.7,160.5 81.2,159.0 81.1,158.1 81.4,156.5 81.8,154.7 83.0,154.2 82.6,151.8 83.5,151.9 83.6,149.7 84.7,149.0 84.7,148.0 85.7,146.5 85.7,145.9 85.7,146.7 87.0,146.0 87.3,145.2 87.4,143.5 88.3,142.8 88.3,142.1 89.1,142.2 89.2,141.0 89.9,139.0 89.9,137.9 90.2,137.0 91.5,136.5 91.6,137.7 91.7,138.1 92.1,139.6 93.2,144.1 93.5,147.1 93.8,151.4 94.3,154.0 94.7,156.2 95.0,158.8 95.6,162.0 96.2,163.8 96.4,166.6 96.8,168.0 97.3,170.3 97.8,172.3 98.2,174.2 98.6,175.6 99.1,177.2 99.5,178.1 99.9,179.3" fill="none" stroke="#8a8a8a" stroke-width="1.8" stroke-linejoin="round"/>
<path d="M42.0,179.6 42.7,179.6 42.9,178.9 43.5,178.2 43.8,178.6 44.4,178.1 44.5,177.8 45.2,177.6 45.5,177.3 46.2,177.1 46.6,176.9 46.7,176.1 47.4,176.4 47.9,176.0 47.9,176.3 48.5,176.0 48.9,175.3 49.3,175.5 49.7,175.2 50.4,175.3 51.0,175.4 51.6,174.7 51.7,174.2 52.1,174.3 52.9,173.9 52.7,174.0 53.2,174.1 53.8,173.8 54.8,173.6 54.8,173.8 55.5,173.5 55.4,172.6 56.3,172.7 57.1,173.1 56.9,172.3 57.0,172.6 58.0,171.1 58.0,171.8 59.3,171.6 59.2,171.1 59.5,170.6 60.1,171.8 61.1,171.7 60.8,170.9 61.5,171.5 61.8,170.3 62.4,171.2 62.8,169.7 63.4,169.2 63.5,169.5 64.6,169.9 64.7,168.1 65.6,168.2 65.2,168.9 65.5,167.4 66.1,168.4 66.8,167.2 67.4,166.7 67.2,166.4 67.9,166.0 68.4,164.9 69.1,163.8 69.3,163.6 70.1,163.7 70.0,161.3 71.5,161.7 71.3,162.2 72.1,159.3 72.3,159.8 72.8,159.9 73.7,158.8 73.3,158.1 73.5,158.9 74.9,157.1 75.3,156.1 75.2,157.4 76.1,156.0 75.6,157.3 76.7,156.0 76.8,155.8 77.6,154.7 77.2,156.3 78.9,154.9 79.1,156.5 79.6,154.7 80.5,157.7 79.4,157.5 80.1,158.5 81.7,158.6 80.9,159.4 82.6,159.1 82.5,159.5 82.3,161.1 82.5,162.4 83.5,161.9 83.5,162.6 84.9,164.6 84.5,166.0 85.2,165.7 85.9,166.8 86.2,168.2 87.0,167.0 87.4,168.0 88.1,169.5 88.2,170.4 88.6,170.7 89.2,171.4 89.1,172.5 89.8,172.7 90.0,174.0 90.9,174.4 91.3,174.0 91.3,174.4 91.9,175.4 92.5,176.1 93.2,175.8 93.6,175.9 93.6,176.3 94.4,177.5 94.5,177.2 95.3,178.3 95.4,178.5 96.0,178.7 96.4,178.7 96.9,179.4 97.4,179.6" fill="none" stroke="#000" stroke-width="2.3" stroke-linejoin="round"/>
<path d="M62.0,179.6 62.2,179.2 62.9,179.3 63.3,179.0 63.7,178.7 64.2,178.1 64.6,178.0 64.8,177.1 65.2,177.0 65.9,177.4 66.1,177.0 67.1,176.4 67.2,176.3 67.5,175.8 67.9,175.0 68.5,174.8 68.8,174.9 69.3,173.6 69.8,172.8 70.4,172.3 71.2,171.3 71.7,171.1 71.9,170.9 72.6,169.7 72.8,168.3 73.2,167.6 73.1,167.2 73.4,164.8 73.8,163.2 75.4,161.7 75.0,159.9 75.4,158.6 76.5,157.9 76.2,155.2 77.7,155.3 77.4,154.0 77.1,153.8 78.8,150.2 78.0,150.1 80.1,149.4 79.4,148.3 79.4,146.1 80.6,147.4 80.3,146.6 80.7,144.0 81.2,143.6 82.2,142.4 82.0,141.7 84.0,140.3 83.7,140.3 84.2,140.8 84.2,140.4 85.1,142.0 85.6,146.9 85.4,150.1 86.4,151.4 86.9,155.5 87.4,157.6 88.2,160.7 88.0,161.8 88.2,164.7 88.8,164.9 89.7,166.3 89.7,168.8 89.9,168.7 90.4,169.9 91.3,171.2 91.3,171.8 91.7,173.4 92.4,173.6 92.7,174.8 93.3,175.8 93.9,177.1 94.4,178.2 94.8,178.9 95.2,179.6" fill="none" stroke="#0a0ae6" stroke-width="2.8" stroke-linejoin="round"/>
</g>
<path d="M37.60,117.50 H126.20 V179.60" fill="none" stroke="#000" stroke-width="1.3"/>
<path d="M37.60,117.00 V179.60 H126.70" fill="none" stroke="#000" stroke-width="1.5"/>
<path d="M34.20,179.60 H37.60 M35.40,175.72 H37.60 M35.40,171.84 H37.60 M35.40,167.96 H37.60 M34.20,164.07 H37.60 M35.40,160.19 H37.60 M35.40,156.31 H37.60 M35.40,152.43 H37.60 M34.20,148.55 H37.60 M35.40,144.67 H37.60 M35.40,140.79 H37.60 M35.40,136.91 H37.60 M34.20,133.03 H37.60 M35.40,129.14 H37.60 M35.40,125.26 H37.60 M35.40,121.38 H37.60 M34.20,117.50 H37.60 M37.60,179.60 V183.20 M44.27,179.60 V182.20 M48.17,179.60 V182.20 M50.94,179.60 V182.20 M53.08,179.60 V182.20 M54.84,179.60 V182.20 M56.32,179.60 V182.20 M57.60,179.60 V182.20 M58.74,179.60 V182.20 M59.75,179.60 V183.20 M66.42,179.60 V182.20 M70.32,179.60 V182.20 M73.09,179.60 V182.20 M75.23,179.60 V182.20 M76.99,179.60 V182.20 M78.47,179.60 V182.20 M79.75,179.60 V182.20 M80.89,179.60 V182.20 M81.90,179.60 V183.20 M88.57,179.60 V182.20 M92.47,179.60 V182.20 M95.24,179.60 V182.20 M97.38,179.60 V182.20 M99.14,179.60 V182.20 M100.62,179.60 V182.20 M101.90,179.60 V182.20 M103.04,179.60 V182.20 M104.05,179.60 V183.20 M110.72,179.60 V182.20 M114.62,179.60 V182.20 M117.39,179.60 V182.20 M119.53,179.60 V182.20 M121.29,179.60 V182.20 M122.77,179.60 V182.20 M124.05,179.60 V182.20 M125.19,179.60 V182.20 M126.20,179.60 V183.20" stroke="#000" stroke-width="1.15" fill="none"/>
<text x="33.30" y="182.10" text-anchor="end" class="tl">0</text>
<text x="33.30" y="166.57" text-anchor="end" class="tl">20</text>
<text x="33.30" y="151.05" text-anchor="end" class="tl">40</text>
<text x="33.30" y="135.53" text-anchor="end" class="tl">60</text>
<text x="33.30" y="120.00" text-anchor="end" class="tl">80</text>
<text x="38.10" y="193.50" text-anchor="end" class="tl">10</text>
<text x="38.20" y="189.70" class="sup">0</text>
<text x="60.25" y="193.50" text-anchor="end" class="tl">10</text>
<text x="60.35" y="189.70" class="sup">1</text>
<text x="82.40" y="193.50" text-anchor="end" class="tl">10</text>
<text x="82.50" y="189.70" class="sup">2</text>
<text x="104.55" y="193.50" text-anchor="end" class="tl">10</text>
<text x="104.65" y="189.70" class="sup">3</text>
<text x="126.70" y="193.50" text-anchor="end" class="tl">10</text>
<text x="126.80" y="189.70" class="sup">4</text>
<text transform="translate(11.10,151.30) rotate(-90)" text-anchor="middle" class="yl">PML-RARA</text>
<path d="M18.40,179.60 V117.50 M14.50,123.80 L18.40,117.50 L22.30,123.80" fill="none" stroke="#000" stroke-width="1.1"/>
<clipPath id="c6"><rect x="167.90" y="117.50" width="88.60" height="62.10"/></clipPath>
<g clip-path="url(#c6)">
<path d="M167.9,179.6 L167.9,145.0 L168.3,143.7 L168.8,142.0 L169.2,140.7 L169.7,139.7 L170.1,140.2 L170.6,140.2 L171.0,141.0 L171.4,141.3 L171.9,142.5 L172.3,142.9 L172.8,144.4 L173.2,145.3 L173.7,146.1 L174.1,147.4 L174.5,148.9 L175.0,149.8 L175.4,151.7 L175.9,153.7 L176.3,155.1 L176.8,157.6 L177.2,159.6 L177.6,161.9 L178.1,163.9 L178.5,166.2 L179.0,168.9 L179.4,171.0 L179.9,172.8 L180.3,174.6 L180.7,176.5 L181.2,178.2 L181.6,179.6 L181.6,179.6 Z" fill="#c4c4c4"/>
<path d="M188.9,179.6 189.6,179.1 189.7,179.0 190.2,178.7 190.9,178.5 191.2,178.0 191.7,177.8 191.9,177.7 192.5,177.1 193.0,176.8 193.5,176.5 193.7,176.6 194.2,176.5 194.7,176.0 195.0,175.8 195.7,176.2 196.2,175.4 196.4,175.2 197.0,175.7 197.3,175.0 197.6,174.8 198.0,175.1 198.8,174.4 199.4,174.0 199.8,173.5 200.1,173.8 200.4,173.3 201.1,172.7 201.3,171.8 201.7,171.4 202.4,169.9 202.7,169.3 202.9,169.1 203.3,167.2 203.9,167.0 204.4,165.5 204.7,165.5 205.7,163.5 205.6,162.2 206.2,160.1 206.5,157.6 207.4,156.5 207.7,155.6 208.4,156.1 208.5,154.5 208.8,153.9 209.6,153.8 209.5,154.3 210.2,152.3 210.1,152.0 210.7,152.9 211.4,152.4 212.4,152.4 212.1,150.5 213.0,151.8 213.6,150.6 213.7,150.8 213.8,149.8 214.3,149.1 215.2,149.2 215.7,148.0 215.5,147.7 216.4,148.6 217.0,149.3 216.9,149.6 217.3,151.1 218.6,152.4 219.0,154.9 219.3,156.1 219.1,158.5 220.4,160.6 220.7,161.8 220.6,163.7 220.9,165.9 222.1,167.5 222.5,168.3 222.9,169.4 223.4,171.0 223.7,172.5 223.7,173.4 224.4,175.3 224.6,176.4 225.2,177.5 225.9,178.7" fill="none" stroke="#8a8a8a" stroke-width="1.8" stroke-linejoin="round"/>
<path d="M168.2,177.6 168.2,177.1 169.0,176.1 169.3,175.9 169.7,176.0 169.8,175.2 170.1,175.6 170.7,175.3 171.1,174.7 171.8,174.8 172.1,174.0 173.2,174.3 172.9,173.8 173.4,173.3 174.4,173.5 174.2,173.3 174.9,172.6 175.3,172.5 175.9,173.3 176.6,172.4 177.1,172.2 177.4,171.4 177.2,172.4 177.9,171.5 177.9,170.1 178.5,171.3 178.9,171.0 179.2,170.1 180.7,170.3 180.8,169.3 180.9,170.7 181.9,169.4 181.6,170.1 182.0,169.4 183.7,167.8 184.0,167.4 184.1,168.8 184.5,168.4 184.6,167.0 185.7,166.4 186.1,167.4 186.2,165.6 187.0,165.3 187.7,166.1 187.7,165.6 187.2,165.4 187.5,164.5 188.1,163.5 188.4,164.6 190.3,164.2 190.6,162.7 189.9,161.5 190.3,161.2 191.9,161.2 192.0,161.5 191.7,162.2 192.2,162.9 193.0,164.8 193.7,164.3 194.0,164.8 193.9,164.3 194.4,166.1 195.8,165.3 196.5,166.0 196.3,166.9 196.8,165.3 197.7,166.3 197.9,166.5 198.0,167.2 199.1,167.2 199.6,165.3 199.9,167.0 199.4,165.5 200.0,164.8 200.5,166.5 200.8,164.1 201.8,164.2 202.7,165.8 202.3,163.9 203.5,163.9 203.4,165.7 203.8,165.9 204.2,165.5 205.4,164.5 205.3,165.8 205.8,166.0 205.3,166.1 205.8,164.6 207.2,166.1 207.3,165.2 208.1,165.5 207.6,167.5 208.9,168.4 208.9,166.6 209.9,167.1 209.5,169.4 210.6,168.0 211.2,170.0 210.8,169.5 211.7,170.2 212.3,171.0 213.3,171.2 213.6,171.3 212.9,171.0 213.4,172.7 214.4,173.3 214.6,172.0 215.2,173.6 215.3,173.8 216.1,174.5 216.3,174.9 217.0,174.9 217.1,174.9 218.3,175.4 218.4,175.2 219.2,175.4 219.4,177.0 219.4,176.8 220.3,176.8 220.9,177.9 221.0,178.3 221.5,178.1 222.0,178.5 222.4,179.3 223.0,179.6 223.3,179.6" fill="none" stroke="#000" stroke-width="2.3" stroke-linejoin="round"/>
<path d="M175.7,179.6 176.2,178.7 176.6,178.8 177.2,177.7 177.4,177.8 177.6,177.2 178.1,176.8 178.6,176.9 179.3,176.5 179.9,177.1 180.2,176.5 180.3,176.7 180.9,176.9 181.2,176.2 181.7,176.8 182.3,176.2 182.8,176.1 183.1,175.7 183.7,176.1 183.9,176.0 184.8,175.9 185.1,175.6 185.2,175.8 186.2,175.0 186.2,174.9 187.1,174.8 187.5,174.9 187.4,174.2 187.9,174.7 188.5,174.6 188.6,173.6 189.4,173.9 189.6,173.4 190.1,172.9 190.6,173.2 191.5,173.4 191.8,173.3 192.0,172.4 192.9,172.8 192.5,171.8 193.4,171.1 193.5,172.1 194.4,171.6 195.1,171.3 195.5,169.5 195.2,169.1 196.0,169.0 196.2,167.8 196.5,167.3 196.8,166.5 197.6,165.9 198.5,165.6 198.7,165.1 199.3,163.6 199.1,162.3 200.3,161.1 200.0,160.2 201.0,159.8 201.5,159.6 201.3,158.5 202.6,158.4 202.5,156.0 202.5,155.5 204.2,154.6 204.0,152.8 205.1,151.3 204.7,150.1 205.1,149.6 205.6,149.6 205.9,149.1 206.6,150.2 207.8,150.3 207.7,152.1 207.9,155.3 208.4,155.9 208.1,159.1 209.5,160.0 210.0,160.2 210.7,161.7 210.7,163.5 210.9,163.0 211.5,165.1 212.1,164.0 212.2,164.9 213.0,166.8 213.7,167.3 214.3,168.1 213.9,169.0 214.5,169.5 215.2,170.3 215.2,169.8 215.8,171.0 216.7,170.0 216.4,170.4 217.4,170.8 217.7,172.1 218.2,173.1 219.1,172.4 218.7,172.7 219.9,173.3 219.8,174.1 220.3,174.4 220.9,175.4 221.1,175.2 221.8,176.3 222.0,176.4 222.6,177.3 223.2,177.7 223.2,177.8 224.1,178.5 224.1,178.1 224.9,179.1 225.6,179.1" fill="none" stroke="#0a0ae6" stroke-width="2.8" stroke-linejoin="round"/>
</g>
<path d="M167.90,117.50 H256.50 V179.60" fill="none" stroke="#000" stroke-width="1.3"/>
<path d="M167.90,117.00 V179.60 H257.00" fill="none" stroke="#000" stroke-width="1.5"/>
<path d="M164.50,179.60 H167.90 M165.70,175.72 H167.90 M165.70,171.84 H167.90 M165.70,167.96 H167.90 M164.50,164.07 H167.90 M165.70,160.19 H167.90 M165.70,156.31 H167.90 M165.70,152.43 H167.90 M164.50,148.55 H167.90 M165.70,144.67 H167.90 M165.70,140.79 H167.90 M165.70,136.91 H167.90 M164.50,133.03 H167.90 M165.70,129.14 H167.90 M165.70,125.26 H167.90 M165.70,121.38 H167.90 M164.50,117.50 H167.90 M167.90,179.60 V183.20 M174.57,179.60 V182.20 M178.47,179.60 V182.20 M181.24,179.60 V182.20 M183.38,179.60 V182.20 M185.14,179.60 V182.20 M186.62,179.60 V182.20 M187.90,179.60 V182.20 M189.04,179.60 V182.20 M190.05,179.60 V183.20 M196.72,179.60 V182.20 M200.62,179.60 V182.20 M203.39,179.60 V182.20 M205.53,179.60 V182.20 M207.29,179.60 V182.20 M208.77,179.60 V182.20 M210.05,179.60 V182.20 M211.19,179.60 V182.20 M212.20,179.60 V183.20 M218.87,179.60 V182.20 M222.77,179.60 V182.20 M225.54,179.60 V182.20 M227.68,179.60 V182.20 M229.44,179.60 V182.20 M230.92,179.60 V182.20 M232.20,179.60 V182.20 M233.34,179.60 V182.20 M234.35,179.60 V183.20 M241.02,179.60 V182.20 M244.92,179.60 V182.20 M247.69,179.60 V182.20 M249.83,179.60 V182.20 M251.59,179.60 V182.20 M253.07,179.60 V182.20 M254.35,179.60 V182.20 M255.49,179.60 V182.20 M256.50,179.60 V183.20" stroke="#000" stroke-width="1.15" fill="none"/>
<text x="163.60" y="182.10" text-anchor="end" class="tl">0</text>
<text x="163.60" y="166.57" text-anchor="end" class="tl">20</text>
<text x="163.60" y="151.05" text-anchor="end" class="tl">40</text>
<text x="163.60" y="135.53" text-anchor="end" class="tl">60</text>
<text x="163.60" y="120.00" text-anchor="end" class="tl">80</text>
<text x="168.40" y="193.50" text-anchor="end" class="tl">10</text>
<text x="168.50" y="189.70" class="sup">0</text>
<text x="190.55" y="193.50" text-anchor="end" class="tl">10</text>
<text x="190.65" y="189.70" class="sup">1</text>
<text x="212.70" y="193.50" text-anchor="end" class="tl">10</text>
<text x="212.80" y="189.70" class="sup">2</text>
<text x="234.85" y="193.50" text-anchor="end" class="tl">10</text>
<text x="234.95" y="189.70" class="sup">3</text>
<text x="257.00" y="193.50" text-anchor="end" class="tl">10</text>
<text x="257.10" y="189.70" class="sup">4</text>
<text transform="translate(141.00,150.90) rotate(-90)" text-anchor="middle" class="yl">AML1-ETO</text>
<path d="M147.60,179.60 V117.50 M143.70,123.80 L147.60,117.50 L151.50,123.80" fill="none" stroke="#000" stroke-width="1.1"/>
<clipPath id="c7"><rect x="297.90" y="117.50" width="88.60" height="62.10"/></clipPath>
<g clip-path="url(#c7)">
<path d="M298.6,179.6 L298.6,179.6 L299.0,165.6 L299.5,162.6 L299.9,160.3 L300.3,156.6 L300.8,153.8 L301.2,151.1 L301.7,148.7 L302.1,147.4 L302.6,145.4 L303.0,144.4 L303.4,142.9 L303.9,141.9 L304.3,141.3 L304.8,140.8 L305.2,139.2 L305.7,138.5 L306.1,138.2 L306.5,137.9 L307.0,137.2 L307.4,136.8 L307.9,137.5 L308.3,137.1 L308.8,138.7 L309.2,139.2 L309.6,140.4 L310.1,141.8 L310.5,143.6 L311.0,145.9 L311.4,147.3 L311.9,150.1 L312.3,152.8 L312.7,155.2 L313.2,157.9 L313.6,160.0 L314.1,162.5 L314.5,165.1 L315.0,167.9 L315.4,170.2 L315.8,172.6 L316.3,175.1 L316.7,177.3 L317.2,178.9 L317.2,179.6 Z" fill="#c4c4c4"/>
<path d="M302.3,179.6 302.9,179.6 303.3,178.8 303.9,178.8 304.0,178.8 304.3,178.8 305.1,178.1 305.4,177.6 306.0,177.4 306.4,177.9 306.7,177.8 307.3,177.5 307.6,177.2 308.4,177.3 308.6,176.8 309.1,176.2 309.7,176.7 309.7,176.7 310.4,176.0 310.7,175.5 310.9,175.4 311.8,175.1 311.9,175.0 312.8,175.1 312.9,174.4 313.7,174.8 314.1,175.0 314.2,174.0 315.1,173.9 314.9,174.5 315.4,173.1 316.0,173.0 316.3,173.3 316.9,172.2 317.5,172.5 318.0,173.2 318.4,172.3 318.3,172.4 319.4,172.6 319.9,172.4 319.9,171.5 320.6,170.9 320.5,170.7 321.0,171.0 321.4,171.2 321.9,170.6 322.6,170.8 323.5,170.5 323.2,171.4 323.9,170.5 324.1,170.4 325.5,170.9 325.3,169.8 325.3,168.6 326.0,168.7 326.3,169.2 327.7,167.1 327.1,167.6 327.4,167.2 329.1,166.7 329.2,167.0 329.2,165.2 330.2,164.6 330.6,165.0 330.3,164.1 331.8,164.8 332.0,164.4 332.4,163.9 332.5,161.9 332.2,161.7 333.0,160.2 334.1,160.0 334.1,160.9 335.4,159.9 334.9,159.0 335.1,156.3 335.5,155.7 337.1,156.5 336.9,156.8 337.8,156.1 338.0,154.5 338.7,156.5 338.6,156.0 339.6,154.5 340.0,154.9 339.8,156.6 341.1,155.1 340.4,156.1 340.8,154.7 342.2,157.0 342.7,155.6 342.9,158.5 343.2,157.6 342.8,157.5 344.2,160.0 345.1,159.1 345.4,159.0 344.9,160.2 345.4,158.9 346.3,159.0 346.5,159.3 347.7,159.1 347.5,159.9 348.6,160.8 349.1,160.8 348.9,161.5 348.6,162.1 349.3,162.6 350.6,162.4 350.6,163.7 351.1,166.0 351.5,166.0 352.3,167.5 352.5,167.8 352.6,169.3 353.3,171.5 354.0,172.3 354.1,173.9 354.6,174.3 355.2,174.9 355.5,175.5 356.2,176.1 356.6,176.8 356.7,177.5 357.5,177.6 357.5,178.4 358.1,178.3 358.4,178.9" fill="none" stroke="#000" stroke-width="2.3" stroke-linejoin="round"/>
<path d="M311.2,179.6 311.7,179.0 312.3,179.6 312.6,178.8 312.8,179.2 313.7,179.3 314.1,178.5 314.3,178.5 314.9,178.9 315.1,178.0 315.5,178.2 316.0,177.8 316.2,178.2 316.9,178.0 317.3,177.3 317.8,177.9 318.6,177.2 319.0,177.9 319.0,177.2 319.8,177.0 319.8,177.2 320.7,177.3 320.8,177.6 321.6,176.8 321.9,177.1 322.0,176.6 322.7,177.0 323.4,176.3 323.8,176.7 324.2,176.0 324.7,175.8 324.8,175.9 325.6,175.8 325.6,175.3 326.1,175.3 326.5,174.5 326.9,174.1 327.4,174.1 327.9,174.4 328.2,173.7 328.5,173.2 329.0,172.7 329.8,173.1 330.2,172.0 330.3,172.8 331.1,172.3 331.9,171.6 332.0,171.1 332.9,171.3 333.2,170.4 333.5,170.7 333.6,169.9 333.9,169.0 334.9,168.6 334.8,168.6 335.9,167.9 336.2,168.8 336.2,167.3 336.8,166.8 337.3,166.0 338.3,165.7 338.3,166.4 339.2,164.3 338.9,163.8 339.4,162.4 340.0,162.7 340.4,161.4 340.6,160.3 341.2,159.8 341.1,159.0 341.8,158.9 342.7,158.9 343.3,158.6 344.1,157.8 343.7,156.2 343.9,157.0 345.1,155.5 345.8,152.8 346.0,154.0 346.7,152.5 346.7,149.6 347.6,149.3 348.1,148.8 348.6,146.9 348.7,145.9 348.1,143.5 349.1,142.3 350.3,141.5 350.4,142.4 350.9,142.6 350.2,142.6 351.9,144.2 352.0,144.4 351.7,146.2 352.4,147.8 352.9,147.3 353.2,150.8 354.9,152.7 354.4,154.2 355.3,156.4 355.7,159.3 355.4,161.2 356.1,162.6 356.6,166.2 356.7,167.9 357.5,168.8 358.3,171.1 358.4,172.3 359.0,173.1 359.2,174.0 359.7,175.5 360.6,176.4 360.8,176.3 361.5,178.0 361.6,178.4 362.4,178.8 362.6,179.6" fill="none" stroke="#0a0ae6" stroke-width="2.8" stroke-linejoin="round"/>
</g>
<path d="M297.90,117.50 H386.50 V179.60" fill="none" stroke="#000" stroke-width="1.3"/>
<path d="M297.90,117.00 V179.60 H387.00" fill="none" stroke="#000" stroke-width="1.5"/>
<path d="M294.50,179.60 H297.90 M295.70,175.72 H297.90 M295.70,171.84 H297.90 M295.70,167.96 H297.90 M294.50,164.07 H297.90 M295.70,160.19 H297.90 M295.70,156.31 H297.90 M295.70,152.43 H297.90 M294.50,148.55 H297.90 M295.70,144.67 H297.90 M295.70,140.79 H297.90 M295.70,136.91 H297.90 M294.50,133.03 H297.90 M295.70,129.14 H297.90 M295.70,125.26 H297.90 M295.70,121.38 H297.90 M294.50,117.50 H297.90 M297.90,179.60 V183.20 M304.57,179.60 V182.20 M308.47,179.60 V182.20 M311.24,179.60 V182.20 M313.38,179.60 V182.20 M315.14,179.60 V182.20 M316.62,179.60 V182.20 M317.90,179.60 V182.20 M319.04,179.60 V182.20 M320.05,179.60 V183.20 M326.72,179.60 V182.20 M330.62,179.60 V182.20 M333.39,179.60 V182.20 M335.53,179.60 V182.20 M337.29,179.60 V182.20 M338.77,179.60 V182.20 M340.05,179.60 V182.20 M341.19,179.60 V182.20 M342.20,179.60 V183.20 M348.87,179.60 V182.20 M352.77,179.60 V182.20 M355.54,179.60 V182.20 M357.68,179.60 V182.20 M359.44,179.60 V182.20 M360.92,179.60 V182.20 M362.20,179.60 V182.20 M363.34,179.60 V182.20 M364.35,179.60 V183.20 M371.02,179.60 V182.20 M374.92,179.60 V182.20 M377.69,179.60 V182.20 M379.83,179.60 V182.20 M381.59,179.60 V182.20 M383.07,179.60 V182.20 M384.35,179.60 V182.20 M385.49,179.60 V182.20 M386.50,179.60 V183.20" stroke="#000" stroke-width="1.15" fill="none"/>
<text x="293.60" y="182.10" text-anchor="end" class="tl">0</text>
<text x="293.60" y="166.57" text-anchor="end" class="tl">20</text>
<text x="293.60" y="151.05" text-anchor="end" class="tl">40</text>
<text x="293.60" y="135.53" text-anchor="end" class="tl">60</text>
<text x="293.60" y="120.00" text-anchor="end" class="tl">80</text>
<text x="298.40" y="193.50" text-anchor="end" class="tl">10</text>
<text x="298.50" y="189.70" class="sup">0</text>
<text x="320.55" y="193.50" text-anchor="end" class="tl">10</text>
<text x="320.65" y="189.70" class="sup">1</text>
<text x="342.70" y="193.50" text-anchor="end" class="tl">10</text>
<text x="342.80" y="189.70" class="sup">2</text>
<text x="364.85" y="193.50" text-anchor="end" class="tl">10</text>
<text x="364.95" y="189.70" class="sup">3</text>
<text x="387.00" y="193.50" text-anchor="end" class="tl">10</text>
<text x="387.10" y="189.70" class="sup">4</text>
<text transform="translate(271.00,149.50) rotate(-90)" text-anchor="middle" class="yl">PML-RARA</text>
<path d="M277.70,179.60 V117.50 M273.80,123.80 L277.70,117.50 L281.60,123.80" fill="none" stroke="#000" stroke-width="1.1"/>
<clipPath id="c8"><rect x="428.30" y="117.50" width="88.60" height="62.10"/></clipPath>
<g clip-path="url(#c8)">
<path d="M429.2,179.6 L429.2,179.6 L429.6,168.9 L430.1,164.2 L430.5,158.8 L431.0,155.4 L431.4,152.1 L431.8,150.0 L432.3,148.9 L432.7,146.4 L433.2,145.3 L433.6,143.8 L434.1,142.6 L434.5,141.6 L434.9,140.3 L435.4,140.2 L435.8,138.7 L436.3,138.2 L436.7,137.4 L437.2,137.2 L437.6,137.0 L438.0,137.3 L438.5,136.8 L438.9,136.8 L439.4,137.4 L439.8,138.8 L440.3,138.9 L440.7,140.6 L441.1,141.6 L441.6,143.3 L442.0,144.6 L442.5,147.1 L442.9,149.4 L443.4,152.0 L443.8,154.3 L444.2,156.0 L444.7,157.5 L445.1,159.2 L445.6,161.5 L446.0,162.6 L446.5,163.7 L446.9,165.5 L447.3,166.5 L447.8,167.5 L448.2,168.4 L448.7,168.6 L449.1,169.2 L449.6,169.9 L450.0,169.9 L450.4,170.6 L450.9,170.6 L451.3,171.3 L451.8,171.6 L452.2,172.0 L452.7,172.2 L453.1,172.3 L453.6,172.4 L454.0,172.6 L454.4,173.0 L454.9,173.2 L455.3,173.2 L455.8,173.8 L456.2,173.8 L456.7,174.1 L457.1,174.1 L457.5,174.2 L458.0,174.3 L458.4,174.5 L458.9,174.6 L459.3,174.7 L459.8,174.8 L460.2,175.0 L460.6,175.1 L461.1,174.9 L461.5,175.1 L462.0,175.0 L462.4,175.3 L462.9,175.4 L463.3,175.2 L463.7,175.4 L464.2,175.3 L464.6,175.3 L465.1,175.6 L465.5,175.5 L466.0,175.5 L466.4,175.7 L466.8,175.7 L467.3,175.9 L467.7,176.0 L468.2,176.1 L468.6,176.2 L469.1,176.2 L469.5,176.3 L469.9,176.4 L470.4,176.5 L470.8,176.8 L471.3,176.8 L471.7,177.1 L472.2,177.1 L472.6,177.3 L473.0,177.6 L473.5,177.4 L473.9,177.5 L474.4,177.7 L474.8,178.0 L475.3,178.2 L475.7,178.4 L476.1,178.4 L476.6,178.8 L477.0,178.6 L477.5,179.1 L477.9,179.0 L478.4,179.4 L478.8,179.3 L479.2,179.6 L479.2,179.6 Z" fill="#c4c4c4"/>
<path d="M453.8,179.6 454.3,179.6 454.7,179.3 455.3,178.4 455.4,178.3 456.0,178.1 456.3,177.7 456.9,177.2 457.2,177.1 457.8,176.8 458.2,176.8 458.6,176.3 459.0,176.0 459.4,175.9 460.1,175.8 460.2,175.5 460.8,175.0 461.5,174.6 461.7,174.7 462.1,174.4 462.6,173.7 463.1,173.8 463.6,172.8 464.1,173.1 464.6,172.8 464.7,171.8 465.5,171.7 466.0,171.1 466.2,171.1 466.9,170.4 466.9,170.1 467.3,169.7 468.2,168.6 468.3,168.6 468.9,167.3 469.4,167.2 469.9,166.5 470.2,165.4 470.6,163.7 471.1,162.6 471.3,161.7 472.1,159.2 472.3,158.0 473.1,156.2 473.1,155.0 473.7,154.5 474.5,152.3 474.5,151.3 475.3,150.9 475.2,149.3 476.0,148.2 476.2,147.1 477.1,146.0 477.4,144.2 478.2,143.8 478.4,142.9 478.7,140.4 478.6,140.4 479.9,139.0 480.4,138.9 480.5,136.7 481.0,137.6 480.7,136.3 482.1,137.4 482.0,137.3 482.9,138.5 483.1,139.6 483.2,140.6 483.7,143.1 483.9,146.4 484.6,149.9 485.0,152.0 485.6,155.2 485.8,158.5 486.4,160.4 487.2,162.9 487.1,165.0 488.0,167.3 488.4,169.1 489.0,170.0 489.2,171.7 489.9,172.8 490.3,174.3 490.5,174.9 490.9,176.2 491.3,177.5 491.9,178.5 492.3,179.2" fill="none" stroke="#8a8a8a" stroke-width="1.8" stroke-linejoin="round"/>
<path d="M428.3,177.7 429.0,177.2 429.5,176.7 429.5,176.3 430.1,176.5 430.6,175.7 430.7,175.8 431.4,176.1 431.9,176.1 432.1,175.9 432.8,174.7 433.4,175.3 433.3,175.0 433.7,174.4 434.9,174.2 435.1,173.9 435.1,174.1 435.4,174.0 436.4,173.0 437.2,172.6 437.3,172.8 437.2,173.5 437.6,173.3 438.7,172.3 438.8,172.7 439.5,172.4 439.5,171.3 440.1,170.6 440.6,170.5 441.0,171.1 441.0,170.5 442.3,169.2 442.2,170.5 442.6,168.5 443.2,168.8 443.6,169.0 444.6,168.9 445.0,168.9 444.8,168.2 445.3,168.5 445.9,168.3 446.5,167.5 446.7,167.2 447.7,166.8 447.9,166.0 448.2,165.9 448.7,165.5 448.6,166.0 450.0,164.3 450.4,163.9 450.0,165.3 450.5,164.7 450.9,165.0 451.1,162.8 451.8,164.0 453.4,162.7 453.5,163.5 453.8,162.8 454.5,161.0 455.0,161.6 455.5,161.5 456.1,160.2 455.8,160.1 457.0,160.8 457.4,161.1 457.0,161.3 457.0,159.1 458.7,160.3 458.2,159.9 459.1,159.6 459.6,158.5 459.0,158.2 460.2,157.6 460.2,159.1 461.4,158.2 461.6,157.7 461.8,158.4 462.7,157.3 462.4,158.5 463.5,158.7 464.2,158.8 464.5,157.8 464.9,157.4 464.8,156.8 466.1,157.9 466.6,158.4 467.1,158.9 467.0,158.3 466.8,157.9 467.9,158.8 467.8,157.3 469.0,157.5 468.6,158.6 469.6,158.9 469.9,157.9 469.8,159.9 471.0,158.1 471.9,159.9 472.1,159.1 472.0,158.7 472.9,161.1 473.2,160.5 473.6,161.0 474.7,162.4 474.8,161.0 475.0,163.3 475.1,162.5 475.8,162.8 475.5,163.5 476.2,164.9 476.6,164.1 476.8,164.6 477.7,164.3 478.3,164.6 478.8,164.6 479.4,166.5 480.3,167.3 480.1,166.5 481.1,167.5 481.2,167.4 481.5,168.1 481.8,168.1 482.3,168.3 482.4,169.4 483.8,168.4 483.9,169.6 484.4,170.9 485.1,170.6 484.9,171.2 485.1,170.9 486.3,172.5 486.4,172.3 486.9,173.4 487.6,173.3 487.9,174.3 488.1,175.0 488.3,175.5 489.1,175.8 489.3,176.4 489.6,176.4 490.1,176.7 490.8,177.5 491.2,178.0 491.4,178.4 491.9,178.4 492.6,178.8 492.9,179.2 493.3,179.3" fill="none" stroke="#000" stroke-width="2.3" stroke-linejoin="round"/>
<path d="M432.7,179.6 433.0,178.8 433.7,178.8 434.3,178.2 434.3,177.9 434.8,178.1 435.5,178.1 436.0,178.0 436.4,177.8 436.5,177.7 437.0,177.3 437.5,177.6 438.1,177.7 438.3,178.0 438.6,178.0 439.7,177.9 440.0,177.3 440.3,177.4 441.0,177.7 441.0,177.1 441.6,177.6 441.9,177.5 442.3,177.4 442.8,176.6 443.3,177.3 443.7,176.7 444.2,176.2 444.6,176.5 445.0,176.6 445.8,176.7 445.8,176.1 446.5,175.9 446.9,175.8 447.7,175.7 447.5,175.4 448.3,175.1 449.0,174.8 448.8,173.9 449.3,174.5 450.3,173.4 450.8,173.4 451.0,173.7 451.0,172.7 452.1,173.2 452.2,172.7 452.8,171.2 452.8,171.0 453.5,169.9 453.8,169.4 454.9,170.2 454.9,169.5 454.9,168.6 456.3,167.7 456.8,167.3 456.4,166.3 456.8,164.3 457.6,165.3 458.4,164.1 457.9,162.6 459.0,163.2 459.6,160.5 460.1,161.3 459.9,159.1 460.9,159.7 461.8,157.8 462.1,156.7 461.9,155.2 462.7,156.6 463.5,155.0 463.4,153.8 463.8,153.7 464.6,153.5 464.3,150.3 464.4,152.4 465.6,149.7 466.8,151.4 466.6,152.0 466.9,151.1 467.6,151.3 467.9,149.1 467.9,148.6 469.3,149.1 468.8,148.3 469.0,148.7 469.6,147.8 470.9,148.0 471.4,147.1 471.7,146.4 471.5,145.1 472.8,145.8 472.4,146.5 473.8,147.3 474.0,148.2 474.4,148.3 474.2,148.6 474.4,148.5 475.3,149.0 475.3,150.9 475.7,149.9 475.8,150.4 477.6,151.1 477.2,152.1 478.3,150.4 477.8,152.4 479.1,150.9 479.3,152.4 480.3,153.7 479.7,153.3 480.9,153.9 481.6,155.0 481.5,157.4 482.5,157.4 482.5,158.0 483.0,160.7 482.7,159.7 484.0,161.2 484.7,161.7 484.7,164.4 485.2,165.2 485.3,164.6 485.8,165.2 486.2,168.0 486.6,168.2 487.0,169.0 487.6,170.2 488.0,169.8 488.4,170.2 488.9,172.0 489.2,172.3 490.2,173.5 489.9,173.6 491.0,174.3 491.0,175.3 491.9,175.3 492.2,175.8 492.3,176.8 493.2,177.1 493.2,178.1 493.7,177.6 494.6,178.3 494.8,179.6" fill="none" stroke="#0a0ae6" stroke-width="2.8" stroke-linejoin="round"/>
</g>
<path d="M428.30,117.50 H516.90 V179.60" fill="none" stroke="#000" stroke-width="1.3"/>
<path d="M428.30,117.00 V179.60 H517.40" fill="none" stroke="#000" stroke-width="1.5"/>
<path d="M424.90,179.60 H428.30 M426.10,175.72 H428.30 M426.10,171.84 H428.30 M426.10,167.96 H428.30 M424.90,164.07 H428.30 M426.10,160.19 H428.30 M426.10,156.31 H428.30 M426.10,152.43 H428.30 M424.90,148.55 H428.30 M426.10,144.67 H428.30 M426.10,140.79 H428.30 M426.10,136.91 H428.30 M424.90,133.03 H428.30 M426.10,129.14 H428.30 M426.10,125.26 H428.30 M426.10,121.38 H428.30 M424.90,117.50 H428.30 M428.30,179.60 V183.20 M434.97,179.60 V182.20 M438.87,179.60 V182.20 M441.64,179.60 V182.20 M443.78,179.60 V182.20 M445.54,179.60 V182.20 M447.02,179.60 V182.20 M448.30,179.60 V182.20 M449.44,179.60 V182.20 M450.45,179.60 V183.20 M457.12,179.60 V182.20 M461.02,179.60 V182.20 M463.79,179.60 V182.20 M465.93,179.60 V182.20 M467.69,179.60 V182.20 M469.17,179.60 V182.20 M470.45,179.60 V182.20 M471.59,179.60 V182.20 M472.60,179.60 V183.20 M479.27,179.60 V182.20 M483.17,179.60 V182.20 M485.94,179.60 V182.20 M488.08,179.60 V182.20 M489.84,179.60 V182.20 M491.32,179.60 V182.20 M492.60,179.60 V182.20 M493.74,179.60 V182.20 M494.75,179.60 V183.20 M501.42,179.60 V182.20 M505.32,179.60 V182.20 M508.09,179.60 V182.20 M510.23,179.60 V182.20 M511.99,179.60 V182.20 M513.47,179.60 V182.20 M514.75,179.60 V182.20 M515.89,179.60 V182.20 M516.90,179.60 V183.20" stroke="#000" stroke-width="1.15" fill="none"/>
<text x="424.00" y="182.10" text-anchor="end" class="tl">0</text>
<text x="424.00" y="166.57" text-anchor="end" class="tl">20</text>
<text x="424.00" y="151.05" text-anchor="end" class="tl">40</text>
<text x="424.00" y="135.53" text-anchor="end" class="tl">60</text>
<text x="424.00" y="120.00" text-anchor="end" class="tl">80</text>
<text x="428.80" y="193.50" text-anchor="end" class="tl">10</text>
<text x="428.90" y="189.70" class="sup">0</text>
<text x="450.95" y="193.50" text-anchor="end" class="tl">10</text>
<text x="451.05" y="189.70" class="sup">1</text>
<text x="473.10" y="193.50" text-anchor="end" class="tl">10</text>
<text x="473.20" y="189.70" class="sup">2</text>
<text x="495.25" y="193.50" text-anchor="end" class="tl">10</text>
<text x="495.35" y="189.70" class="sup">3</text>
<text x="517.40" y="193.50" text-anchor="end" class="tl">10</text>
<text x="517.50" y="189.70" class="sup">4</text>
<text transform="translate(401.20,149.80) rotate(-90)" text-anchor="middle" class="yl">AML1-ETO</text>
<path d="M408.10,179.60 V117.50 M404.20,123.80 L408.10,117.50 L412.00,123.80" fill="none" stroke="#000" stroke-width="1.1"/>
<clipPath id="c9"><rect x="37.60" y="223.50" width="88.60" height="62.30"/></clipPath>
<g clip-path="url(#c9)">
<path d="M39.4,285.8 L39.4,285.8 L39.8,267.1 L40.3,258.7 L40.7,253.0 L41.1,249.4 L41.6,245.9 L42.0,244.8 L42.5,244.2 L42.9,242.9 L43.4,242.8 L43.8,242.3 L44.2,241.1 L44.7,240.7 L45.1,240.3 L45.6,239.6 L46.0,239.5 L46.5,239.0 L46.9,239.5 L47.3,240.1 L47.8,241.5 L48.2,243.2 L48.7,244.3 L49.1,246.2 L49.6,247.9 L50.0,250.5 L50.4,252.3 L50.9,254.6 L51.3,257.1 L51.8,259.5 L52.2,261.9 L52.7,264.8 L53.1,268.3 L53.5,271.7 L54.0,274.6 L54.4,277.3 L54.9,279.4 L55.3,281.8 L55.8,283.6 L56.2,284.9 L56.2,285.8 Z" fill="#c4c4c4"/>
<path d="M64.2,285.8 64.6,285.3 65.0,284.6 65.3,285.0 65.7,284.4 66.6,284.1 66.6,283.6 67.3,283.3 67.5,283.0 68.4,283.3 68.6,283.1 68.8,283.2 69.3,283.0 70.2,282.9 70.4,282.3 70.6,282.6 71.5,282.2 71.5,282.7 72.4,282.3 72.7,281.8 73.0,281.4 73.5,281.8 73.7,281.7 74.6,281.1 74.8,281.1 75.6,280.6 75.4,280.6 76.0,280.5 76.4,279.8 76.9,279.4 77.6,278.7 78.1,278.3 78.6,277.8 78.8,278.4 79.0,277.9 79.6,277.5 80.5,276.3 80.5,276.0 80.9,276.2 81.2,275.3 81.7,274.9 82.8,272.8 83.2,271.9 83.3,272.2 83.2,269.3 84.0,268.5 85.1,268.1 84.6,266.3 85.0,265.5 86.0,263.1 85.7,263.2 87.1,261.3 87.0,260.7 87.2,259.8 88.5,258.0 88.5,256.9 88.3,253.4 88.9,253.0 89.2,251.9 89.9,251.1 90.3,248.2 91.3,248.6 91.1,247.7 92.8,247.3 93.2,246.9 93.7,245.1 93.5,247.1 93.9,246.1 93.6,247.2 94.8,247.0 95.5,247.0 95.0,249.5 96.0,251.0 96.7,252.3 97.1,253.2 98.0,255.9 98.3,257.4 98.5,260.5 98.1,262.8 99.3,264.2 99.5,266.4 99.7,267.3 100.1,270.3 100.8,271.2 101.4,273.7 102.1,274.8 102.5,277.0 103.1,278.3 103.5,280.5 103.8,282.2 104.0,282.6 104.6,283.9 104.8,285.0" fill="none" stroke="#8a8a8a" stroke-width="2.2" stroke-linejoin="round"/>
<path d="M37.3,283.4 38.4,284.5 38.7,283.8 38.9,283.9 39.5,283.7 39.6,283.6 40.0,283.9 41.1,283.8 40.8,283.3 41.2,284.3 42.3,283.6 42.3,284.1 42.7,283.3 43.6,283.7 44.0,284.6 44.6,284.5 45.0,284.4 44.8,284.6 45.4,283.7 46.0,284.1 46.7,283.8 46.7,283.9 47.3,283.8 47.8,284.2 48.0,284.0 48.5,284.0 49.2,283.7 49.7,283.8 49.7,284.4 50.3,284.3 51.0,284.1 51.6,284.5 51.5,284.4 52.1,284.1 52.7,283.3 53.4,283.8 53.8,283.5 53.7,283.5 54.3,283.5 54.5,283.0 55.7,281.9 55.4,281.5 55.8,281.3 57.1,282.0 57.0,281.2 57.5,281.2 58.2,279.4 58.1,279.3 58.7,278.8 59.5,278.1 59.8,279.1 60.4,276.8 60.6,276.3 61.3,277.9 61.9,277.6 61.4,275.6 62.7,275.6 62.6,274.6 63.1,275.5 63.8,274.7 63.4,275.1 65.1,272.7 64.4,273.6 65.0,271.7 66.7,272.5 65.9,271.1 66.7,272.1 68.2,272.2 68.1,272.0 67.3,270.1 68.4,270.6 69.3,268.9 69.6,269.9 70.9,269.0 70.1,265.4 71.4,267.5 70.6,267.0 72.7,264.6 72.5,263.9 71.9,264.8 73.8,260.6 72.8,261.9 73.4,262.2 73.9,258.8 74.6,257.8 75.2,259.9 74.7,260.0 75.3,256.4 75.9,257.4 77.1,257.3 78.3,256.6 78.9,257.3 78.1,255.1 78.6,259.0 79.2,257.3 80.5,257.6 79.2,260.0 80.6,262.0 81.3,260.0 81.1,263.4 81.2,260.6 82.4,261.5 83.6,263.2 82.2,263.6 82.9,265.2 83.5,265.3 84.8,265.4 84.7,268.7 85.1,268.2 86.0,269.7 86.8,267.2 85.9,268.4 87.9,268.3 87.4,271.0 88.5,271.0 88.9,270.0 89.8,272.4 89.6,271.0 90.5,272.8 90.6,272.8 90.5,274.8 91.9,274.1 92.4,273.3 92.0,274.4 93.0,274.7 93.4,275.7 94.0,275.0 94.1,277.1 94.0,275.9 94.1,276.7 95.1,278.2 95.2,278.5 96.5,278.0 96.4,278.3 96.9,277.1 98.0,278.2 98.4,279.7 97.9,280.0 98.5,278.2 98.7,278.4 99.3,279.8 99.9,280.2 101.0,279.8 101.4,279.9 101.6,280.7 102.1,280.3 102.0,281.9 102.9,281.4 103.4,281.6 103.4,282.1 104.3,282.4 104.6,282.3 104.9,282.8 105.3,282.2 106.0,283.4 106.2,282.7 106.7,283.5 107.3,283.1 107.6,284.0 108.1,284.5 108.3,283.4 108.6,284.4 109.5,284.9 109.5,284.7 110.5,283.8 110.6,284.5 111.4,284.6 111.8,284.5 112.4,284.4 112.3,285.4 112.9,285.8" fill="none" stroke="#000" stroke-width="2.8" stroke-linejoin="round"/>
</g>
<path d="M37.60,223.50 H126.20 V285.80" fill="none" stroke="#000" stroke-width="1.3"/>
<path d="M37.60,223.00 V285.80 H126.70" fill="none" stroke="#000" stroke-width="1.5"/>
<path d="M34.20,285.80 H37.60 M35.40,281.91 H37.60 M35.40,278.01 H37.60 M35.40,274.12 H37.60 M34.20,270.23 H37.60 M35.40,266.33 H37.60 M35.40,262.44 H37.60 M35.40,258.54 H37.60 M34.20,254.65 H37.60 M35.40,250.76 H37.60 M35.40,246.86 H37.60 M35.40,242.97 H37.60 M34.20,239.07 H37.60 M35.40,235.18 H37.60 M35.40,231.29 H37.60 M35.40,227.39 H37.60 M34.20,223.50 H37.60 M37.60,285.80 V289.40 M44.27,285.80 V288.40 M48.17,285.80 V288.40 M50.94,285.80 V288.40 M53.08,285.80 V288.40 M54.84,285.80 V288.40 M56.32,285.80 V288.40 M57.60,285.80 V288.40 M58.74,285.80 V288.40 M59.75,285.80 V289.40 M66.42,285.80 V288.40 M70.32,285.80 V288.40 M73.09,285.80 V288.40 M75.23,285.80 V288.40 M76.99,285.80 V288.40 M78.47,285.80 V288.40 M79.75,285.80 V288.40 M80.89,285.80 V288.40 M81.90,285.80 V289.40 M88.57,285.80 V288.40 M92.47,285.80 V288.40 M95.24,285.80 V288.40 M97.38,285.80 V288.40 M99.14,285.80 V288.40 M100.62,285.80 V288.40 M101.90,285.80 V288.40 M103.04,285.80 V288.40 M104.05,285.80 V289.40 M110.72,285.80 V288.40 M114.62,285.80 V288.40 M117.39,285.80 V288.40 M119.53,285.80 V288.40 M121.29,285.80 V288.40 M122.77,285.80 V288.40 M124.05,285.80 V288.40 M125.19,285.80 V288.40 M126.20,285.80 V289.40" stroke="#000" stroke-width="1.15" fill="none"/>
<text x="33.30" y="288.30" text-anchor="end" class="tl">0</text>
<text x="33.30" y="272.73" text-anchor="end" class="tl">8</text>
<text x="33.30" y="257.15" text-anchor="end" class="tl">15</text>
<text x="33.30" y="241.57" text-anchor="end" class="tl">23</text>
<text x="33.30" y="226.00" text-anchor="end" class="tl">30</text>
<text x="38.10" y="299.70" text-anchor="end" class="tl">10</text>
<text x="38.20" y="295.90" class="sup">0</text>
<text x="60.25" y="299.70" text-anchor="end" class="tl">10</text>
<text x="60.35" y="295.90" class="sup">1</text>
<text x="82.40" y="299.70" text-anchor="end" class="tl">10</text>
<text x="82.50" y="295.90" class="sup">2</text>
<text x="104.55" y="299.70" text-anchor="end" class="tl">10</text>
<text x="104.65" y="295.90" class="sup">3</text>
<text x="126.70" y="299.70" text-anchor="end" class="tl">10</text>
<text x="126.80" y="295.90" class="sup">4</text>
<text transform="translate(11.10,256.50) rotate(-90)" text-anchor="middle" class="yl">PML-RARA</text>
<path d="M18.40,285.80 V223.70 M14.50,230.00 L18.40,223.70 L22.30,230.00" fill="none" stroke="#000" stroke-width="1.1"/>
<clipPath id="c10"><rect x="171.90" y="223.50" width="84.60" height="62.30"/></clipPath>
<g clip-path="url(#c10)">
<path d="M173.0,285.8 L173.0,285.8 L173.4,277.8 L173.8,275.9 L174.2,274.8 L174.6,273.5 L175.1,272.9 L175.5,271.9 L175.9,270.9 L176.3,269.6 L176.8,268.7 L177.2,267.4 L177.6,266.1 L178.0,265.1 L178.5,263.7 L178.9,261.5 L179.3,260.6 L179.7,258.9 L180.1,257.0 L180.6,255.3 L181.0,254.3 L181.4,253.0 L181.8,252.3 L182.3,251.6 L182.7,250.5 L183.1,250.4 L183.5,250.0 L184.0,249.6 L184.4,248.9 L184.8,248.2 L185.2,248.0 L185.6,248.2 L186.1,249.3 L186.5,249.7 L186.9,251.0 L187.3,252.9 L187.8,254.0 L188.2,255.7 L188.6,257.3 L189.0,258.9 L189.5,261.2 L189.9,263.3 L190.3,264.8 L190.7,267.0 L191.1,269.5 L191.6,271.6 L192.0,274.1 L192.4,276.1 L192.8,277.4 L193.3,278.5 L193.7,279.6 L194.1,280.3 L194.5,281.4 L195.0,282.4 L195.4,283.6 L195.8,284.6 L196.2,285.8 L196.2,285.8 Z" fill="#c4c4c4"/>
<path d="M201.5,285.8 201.6,285.8 202.6,285.3 202.7,285.8 203.0,285.5 203.7,285.3 203.8,285.1 204.2,285.4 205.1,285.5 205.3,285.5 205.7,284.8 206.3,284.2 206.4,284.3 207.0,283.7 207.3,284.1 208.0,284.1 208.3,283.0 208.7,283.5 208.7,282.7 209.5,282.1 209.9,281.5 210.4,281.3 210.4,280.4 211.8,279.6 211.0,278.7 212.1,276.9 211.9,276.2 212.9,275.7 213.3,277.5 213.7,275.6 214.1,275.3 215.3,275.5 214.9,275.0 216.2,274.3 215.4,272.2 216.7,273.0 216.9,272.5 217.1,272.6 218.5,272.1 218.7,270.6 219.2,271.3 219.7,268.8 220.2,271.0 219.3,271.4 219.4,269.8 221.4,268.9 220.6,266.8 220.7,265.8 220.9,265.8 223.1,268.2 223.2,265.8 223.1,266.1 223.9,264.6 223.4,264.6 224.6,263.5 224.1,264.0 226.0,263.6 225.9,264.2 225.9,261.1 225.5,261.0 226.8,261.6 227.6,263.8 228.2,262.7 228.2,264.4 228.5,264.5 229.5,265.7 229.3,266.9 229.8,267.0 230.7,267.3 230.5,266.8 232.1,265.8 232.0,265.9 232.7,262.4 231.3,265.6 232.4,264.3 233.5,266.6 233.0,265.8 233.2,266.3 235.4,269.4 235.4,268.3 234.7,271.7 235.7,271.2 236.9,273.3 236.1,271.2 237.2,274.6 238.0,274.6 238.6,276.2 237.6,276.0 238.1,278.0 239.6,278.9 239.7,279.7 239.6,280.5 240.8,282.4 240.5,283.8 241.3,284.4 241.6,284.3 242.0,285.1 242.8,285.0 243.0,285.8" fill="none" stroke="#000" stroke-width="2.7" stroke-linejoin="round"/>
</g>
<path d="M171.90,223.50 H256.50 V285.80" fill="none" stroke="#000" stroke-width="1.3"/>
<path d="M171.90,223.00 V285.80 H257.00" fill="none" stroke="#000" stroke-width="1.5"/>
<path d="M168.50,285.80 H171.90 M169.70,281.91 H171.90 M169.70,278.01 H171.90 M169.70,274.12 H171.90 M168.50,270.23 H171.90 M169.70,266.33 H171.90 M169.70,262.44 H171.90 M169.70,258.54 H171.90 M168.50,254.65 H171.90 M169.70,250.76 H171.90 M169.70,246.86 H171.90 M169.70,242.97 H171.90 M168.50,239.07 H171.90 M169.70,235.18 H171.90 M169.70,231.29 H171.90 M169.70,227.39 H171.90 M168.50,223.50 H171.90 M171.90,285.80 V289.40 M178.27,285.80 V288.40 M181.99,285.80 V288.40 M184.63,285.80 V288.40 M186.68,285.80 V288.40 M188.36,285.80 V288.40 M189.77,285.80 V288.40 M191.00,285.80 V288.40 M192.08,285.80 V288.40 M193.05,285.80 V289.40 M199.42,285.80 V288.40 M203.14,285.80 V288.40 M205.78,285.80 V288.40 M207.83,285.80 V288.40 M209.51,285.80 V288.40 M210.92,285.80 V288.40 M212.15,285.80 V288.40 M213.23,285.80 V288.40 M214.20,285.80 V289.40 M220.57,285.80 V288.40 M224.29,285.80 V288.40 M226.93,285.80 V288.40 M228.98,285.80 V288.40 M230.66,285.80 V288.40 M232.07,285.80 V288.40 M233.30,285.80 V288.40 M234.38,285.80 V288.40 M235.35,285.80 V289.40 M241.72,285.80 V288.40 M245.44,285.80 V288.40 M248.08,285.80 V288.40 M250.13,285.80 V288.40 M251.81,285.80 V288.40 M253.22,285.80 V288.40 M254.45,285.80 V288.40 M255.53,285.80 V288.40 M256.50,285.80 V289.40" stroke="#000" stroke-width="1.15" fill="none"/>
<text x="167.60" y="288.30" text-anchor="end" class="tl">0</text>
<text x="167.60" y="272.73" text-anchor="end" class="tl">30</text>
<text x="167.60" y="257.15" text-anchor="end" class="tl">60</text>
<text x="167.60" y="241.57" text-anchor="end" class="tl">90</text>
<text x="167.60" y="226.00" text-anchor="end" class="tl">120</text>
<text x="172.40" y="299.70" text-anchor="end" class="tl">10</text>
<text x="172.50" y="295.90" class="sup">0</text>
<text x="193.55" y="299.70" text-anchor="end" class="tl">10</text>
<text x="193.65" y="295.90" class="sup">1</text>
<text x="214.70" y="299.70" text-anchor="end" class="tl">10</text>
<text x="214.80" y="295.90" class="sup">2</text>
<text x="235.85" y="299.70" text-anchor="end" class="tl">10</text>
<text x="235.95" y="295.90" class="sup">3</text>
<text x="257.00" y="299.70" text-anchor="end" class="tl">10</text>
<text x="257.10" y="295.90" class="sup">4</text>
<text transform="translate(141.00,253.20) rotate(-90)" text-anchor="middle" class="yl">PR-AHT</text>
<path d="M147.60,285.80 V223.30 M143.70,229.60 L147.60,223.30 L151.50,229.60" fill="none" stroke="#000" stroke-width="1.1"/>
<clipPath id="c11"><rect x="37.60" y="319.30" width="88.60" height="62.70"/></clipPath>
<g clip-path="url(#c11)">
<path d="M38.0,382.0 L38.0,382.0 L38.5,357.3 L38.9,353.0 L39.4,348.8 L39.8,343.0 L40.3,337.4 L40.7,332.2 L41.1,325.7 L41.6,319.5 L42.0,318.1 L42.5,317.4 L42.9,316.5 L43.4,316.3 L43.8,315.9 L44.2,316.3 L44.7,316.1 L45.1,315.4 L45.6,316.1 L46.0,316.1 L46.5,315.8 L46.9,315.7 L47.3,315.4 L47.8,315.3 L48.2,315.8 L48.7,315.5 L49.1,315.8 L49.6,316.0 L50.0,316.1 L50.4,316.8 L50.9,317.2 L51.3,318.3 L51.8,319.8 L52.2,329.9 L52.7,334.6 L53.1,339.8 L53.5,344.4 L54.0,348.6 L54.4,353.3 L54.9,357.4 L55.3,361.3 L55.8,365.1 L56.2,368.6 L56.6,372.2 L57.1,375.7 L57.5,378.5 L58.0,381.0 L58.0,382.0 Z" fill="#c4c4c4"/>
<path d="M70.8,382.0 71.5,381.4 72.0,380.9 71.9,380.9 72.8,379.8 73.3,379.5 73.2,378.9 74.1,378.6 74.1,377.7 75.1,377.2 75.0,377.0 75.4,375.8 76.3,374.9 76.6,374.2 76.8,373.8 77.2,373.3 77.6,372.3 78.1,371.1 79.2,370.0 79.1,369.9 79.4,369.1 80.5,367.3 80.2,366.7 80.7,366.2 81.8,363.8 81.7,362.8 81.9,361.1 82.5,360.9 83.1,359.7 84.3,358.1 84.2,356.9 84.1,356.4 85.6,353.4 85.1,353.5 86.2,350.5 85.9,350.7 87.4,349.2 87.1,346.7 86.9,343.7 87.7,344.4 88.1,342.2 89.1,341.1 88.9,338.1 89.1,337.8 90.4,335.0 91.0,335.4 91.9,332.7 90.8,331.4 92.0,330.7 92.0,329.2 93.1,329.3 93.2,327.8 94.7,329.3 94.6,328.0 94.1,327.3 94.4,325.5 96.0,327.8 95.3,328.1 96.5,327.6 96.7,328.6 96.7,330.3 98.2,330.1 98.7,332.3 99.2,332.8 98.9,334.5 100.3,335.0 99.9,336.8 101.1,337.9 101.2,338.7 101.5,339.7 101.1,342.0 103.1,343.9 103.1,346.7 103.5,347.8 103.5,350.8 103.5,353.8 103.9,355.9 104.9,357.9 105.6,359.5 106.0,362.3 106.0,365.3 106.5,365.9 106.9,369.1 107.9,370.3 108.0,372.8 108.4,374.9 108.7,376.3 109.5,377.7 110.0,379.6 110.3,380.5 110.7,382.0" fill="none" stroke="#8a8a8a" stroke-width="2.3" stroke-linejoin="round"/>
<path d="M37.2,371.2 38.4,370.7 38.7,370.5 38.7,369.8 39.3,367.3 39.4,366.6 40.4,366.0 40.4,365.3 41.8,365.3 41.0,363.4 42.6,361.3 42.8,360.2 42.6,360.2 42.6,359.4 43.7,356.1 44.8,354.3 44.0,353.6 45.4,351.9 45.8,352.1 46.6,351.8 46.8,351.9 46.9,348.8 46.5,348.0 48.2,348.3 47.8,346.8 49.0,346.7 49.3,346.8 49.4,347.1 50.7,346.9 51.2,344.5 50.2,346.2 51.6,345.3 51.6,346.6 52.9,345.6 53.5,346.3 53.4,345.3 53.9,344.6 54.2,346.5 53.9,346.4 55.7,347.1 55.4,347.6 55.4,347.4 56.8,348.1 55.9,346.9 57.2,347.6 57.5,349.1 58.5,347.4 59.0,348.1 58.6,349.1 58.7,351.6 59.8,350.4 60.8,352.8 61.4,353.4 61.9,353.5 61.0,353.1 61.6,355.1 62.7,356.5 63.4,356.6 63.0,357.4 64.3,357.6 63.7,359.8 65.4,360.3 65.2,360.1 65.6,359.8 66.1,361.3 67.1,360.7 66.7,362.5 67.4,363.8 68.0,363.6 68.2,363.2 69.3,364.5 68.7,366.3 69.0,365.7 70.4,366.1 70.4,367.6 70.4,366.8 71.8,367.9 72.1,367.3 71.8,367.5 72.8,368.3 72.9,368.9 73.0,369.9 73.5,370.5 74.1,370.5 74.8,370.3 75.1,371.1 75.7,371.4 75.8,371.3 76.7,372.5 77.4,372.7 77.8,373.2 78.2,372.9 78.8,374.2 78.6,373.7 79.0,375.0 80.0,375.5 79.9,374.5 80.4,375.7 81.3,375.1 81.7,375.9 81.8,375.8 82.0,376.8 82.9,376.4 83.6,377.5 83.7,376.7 84.1,377.6 84.3,377.6 84.7,377.0 85.5,377.0 85.9,377.7 86.1,377.3 87.0,377.4 87.5,378.4 87.4,377.3 88.1,378.3 88.4,378.1 89.0,377.8 89.5,377.7 90.0,377.1 90.1,378.0 90.9,377.4 91.0,377.2 91.7,376.8 92.4,376.5 92.7,377.4 93.1,377.5 93.5,376.9 94.2,377.0 94.1,377.4 94.9,377.6 95.4,377.5 95.9,377.1 96.2,377.8 96.7,377.7 97.1,377.4 97.3,377.1 97.5,377.7 98.4,377.7 98.6,378.2 99.3,378.7 99.7,378.1 100.1,378.6 100.8,378.5 101.1,379.0 101.7,379.3 101.9,378.6 102.1,379.6 102.4,379.4 103.1,379.4 103.5,379.4 104.1,380.5 104.8,380.2 105.2,380.5 105.6,380.7 105.9,380.3 106.0,381.2 106.5,381.6 106.9,381.4 107.7,381.6 108.3,381.3 108.5,382.0" fill="none" stroke="#000" stroke-width="2.5" stroke-linejoin="round"/>
</g>
<path d="M37.60,319.30 H126.20 V382.00" fill="none" stroke="#000" stroke-width="1.3"/>
<path d="M37.60,318.80 V382.00 H126.70" fill="none" stroke="#000" stroke-width="1.5"/>
<path d="M34.20,382.00 H37.60 M35.40,378.08 H37.60 M35.40,374.16 H37.60 M35.40,370.24 H37.60 M34.20,366.32 H37.60 M35.40,362.41 H37.60 M35.40,358.49 H37.60 M35.40,354.57 H37.60 M34.20,350.65 H37.60 M35.40,346.73 H37.60 M35.40,342.81 H37.60 M35.40,338.89 H37.60 M34.20,334.98 H37.60 M35.40,331.06 H37.60 M35.40,327.14 H37.60 M35.40,323.22 H37.60 M34.20,319.30 H37.60 M37.60,382.00 V385.60 M44.27,382.00 V384.60 M48.17,382.00 V384.60 M50.94,382.00 V384.60 M53.08,382.00 V384.60 M54.84,382.00 V384.60 M56.32,382.00 V384.60 M57.60,382.00 V384.60 M58.74,382.00 V384.60 M59.75,382.00 V385.60 M66.42,382.00 V384.60 M70.32,382.00 V384.60 M73.09,382.00 V384.60 M75.23,382.00 V384.60 M76.99,382.00 V384.60 M78.47,382.00 V384.60 M79.75,382.00 V384.60 M80.89,382.00 V384.60 M81.90,382.00 V385.60 M88.57,382.00 V384.60 M92.47,382.00 V384.60 M95.24,382.00 V384.60 M97.38,382.00 V384.60 M99.14,382.00 V384.60 M100.62,382.00 V384.60 M101.90,382.00 V384.60 M103.04,382.00 V384.60 M104.05,382.00 V385.60 M110.72,382.00 V384.60 M114.62,382.00 V384.60 M117.39,382.00 V384.60 M119.53,382.00 V384.60 M121.29,382.00 V384.60 M122.77,382.00 V384.60 M124.05,382.00 V384.60 M125.19,382.00 V384.60 M126.20,382.00 V385.60" stroke="#000" stroke-width="1.15" fill="none"/>
<text x="33.30" y="384.50" text-anchor="end" class="tl">0</text>
<text x="33.30" y="368.82" text-anchor="end" class="tl">8</text>
<text x="33.30" y="353.15" text-anchor="end" class="tl">15</text>
<text x="33.30" y="337.48" text-anchor="end" class="tl">23</text>
<text x="33.30" y="321.80" text-anchor="end" class="tl">30</text>
<text x="38.10" y="395.90" text-anchor="end" class="tl">10</text>
<text x="38.20" y="392.10" class="sup">0</text>
<text x="60.25" y="395.90" text-anchor="end" class="tl">10</text>
<text x="60.35" y="392.10" class="sup">1</text>
<text x="82.40" y="395.90" text-anchor="end" class="tl">10</text>
<text x="82.50" y="392.10" class="sup">2</text>
<text x="104.55" y="395.90" text-anchor="end" class="tl">10</text>
<text x="104.65" y="392.10" class="sup">3</text>
<text x="126.70" y="395.90" text-anchor="end" class="tl">10</text>
<text x="126.80" y="392.10" class="sup">4</text>
<text transform="translate(11.10,352.30) rotate(-90)" text-anchor="middle" class="yl">AML1-ETO</text>
<path d="M18.40,382.00 V320.80 M14.50,327.10 L18.40,320.80 L22.30,327.10" fill="none" stroke="#000" stroke-width="1.1"/>
<clipPath id="c12"><rect x="167.90" y="319.30" width="88.60" height="62.70"/></clipPath>
<g clip-path="url(#c12)">
<path d="M168.4,382.0 L168.4,375.8 L168.9,371.3 L169.3,370.3 L169.8,369.3 L170.2,368.7 L170.7,368.5 L171.1,368.0 L171.5,368.0 L172.0,367.4 L172.4,366.6 L172.9,365.8 L173.3,365.0 L173.8,363.7 L174.2,363.0 L174.6,361.8 L175.1,361.5 L175.5,359.9 L176.0,359.5 L176.4,357.7 L176.9,357.6 L177.3,357.2 L177.8,357.4 L178.2,358.1 L178.6,357.8 L179.1,358.3 L179.5,359.5 L180.0,359.9 L180.4,360.4 L180.9,362.7 L181.3,365.5 L181.7,366.9 L182.2,368.6 L182.6,369.9 L183.1,371.5 L183.5,373.1 L184.0,374.2 L184.4,375.7 L184.8,376.4 L185.3,377.5 L185.7,378.8 L186.2,380.1 L186.6,381.6 L186.6,382.0 Z" fill="#c4c4c4"/>
<path d="M192.3,382.0 192.7,382.0 192.9,381.8 193.8,382.0 194.1,382.0 194.4,381.5 195.0,381.8 195.2,381.2 195.8,381.3 196.3,381.7 196.9,380.9 197.1,381.2 197.5,380.9 198.2,381.0 198.5,380.7 199.0,380.7 199.2,380.5 199.9,380.8 200.2,380.4 200.6,380.5 201.4,380.7 201.8,380.7 202.2,380.4 202.3,380.5 203.1,380.9 203.2,380.2 203.7,380.9 204.0,380.4 204.7,380.2 205.4,381.0 205.3,380.6 206.2,380.4 206.5,380.9 206.9,380.3 207.4,380.5 208.0,380.3 208.0,380.9 208.9,380.3 209.3,380.2 209.7,380.4 209.8,380.5 210.3,380.0 211.0,380.3 211.5,379.7 211.6,379.9 212.5,379.8 212.7,379.7 213.4,380.0 213.5,379.6 214.3,379.2 214.5,379.3 214.8,378.5 215.4,378.8 215.9,377.5 216.4,378.5 217.0,378.2 217.3,377.4 217.1,376.8 217.8,376.4 218.6,377.1 219.0,376.0 219.3,374.9 219.6,375.5 220.1,374.2 220.8,373.8 220.5,372.8 221.8,372.4 222.2,372.6 222.2,372.2 222.8,369.3 222.8,369.7 223.5,369.8 223.9,368.1 223.8,369.5 224.7,367.5 225.4,366.6 226.6,366.2 226.7,366.6 226.8,365.3 227.8,366.2 227.6,365.0 228.7,366.4 228.7,364.5 228.9,365.8 229.7,365.5 230.0,366.2 230.1,365.4 230.5,365.6 231.0,365.1 231.1,364.7 232.2,364.8 231.9,365.1 232.7,366.9 233.6,367.7 234.5,366.7 234.1,368.5 235.0,367.0 235.4,369.4 235.5,369.8 235.8,370.0 236.4,370.1 236.9,370.8 237.0,372.6 237.6,372.0 238.4,374.4 239.2,373.4 239.6,376.0 239.9,376.0 239.8,376.8 240.8,378.4 241.3,378.0 241.3,378.3 241.6,378.8 242.5,379.4 242.6,380.0 243.1,380.3 243.7,381.3 244.2,380.9 244.5,381.6 245.1,381.8 245.4,382.0" fill="none" stroke="#8a8a8a" stroke-width="2.2" stroke-linejoin="round"/>
<path d="M192.3,382.0 192.7,382.0 193.1,382.0 193.5,381.9 194.0,381.6 194.3,381.9 194.9,382.0 195.5,381.9 195.9,381.9 196.2,381.3 196.9,381.4 196.9,381.6 197.3,380.7 197.7,380.7 198.3,380.5 199.0,380.6 199.6,381.1 200.0,381.4 199.9,381.3 201.0,380.5 200.9,380.7 201.5,381.0 201.9,380.7 202.2,380.4 203.2,380.7 203.5,381.1 203.7,381.1 204.5,380.4 204.8,380.7 204.9,380.1 205.7,380.6 206.2,380.9 206.4,380.4 207.2,380.9 207.1,380.5 207.8,380.7 208.0,380.4 208.7,380.4 209.1,380.0 209.7,380.9 209.9,380.1 210.6,379.8 210.6,380.3 211.4,380.1 211.7,380.0 212.1,379.6 212.5,380.3 213.1,379.5 213.4,378.9 213.8,378.7 214.3,378.7 214.7,379.4 215.4,378.2 215.8,378.0 215.8,378.2 216.2,377.9 217.4,376.9 217.7,377.9 217.9,376.1 218.8,375.9 218.5,375.4 219.5,375.9 219.7,375.3 220.1,375.7 220.5,375.2 220.9,373.4 221.9,373.3 222.0,371.3 222.4,371.8 223.0,370.9 223.0,370.5 222.9,368.8 224.7,370.0 225.4,368.0 224.4,369.0 225.3,368.4 225.5,366.4 225.6,366.3 226.1,364.9 226.6,365.3 228.3,364.5 228.1,365.1 229.4,365.6 228.5,364.0 230.2,366.1 230.0,366.2 229.8,364.5 231.3,366.2 231.8,365.2 231.8,364.5 231.4,366.7 232.0,366.1 233.6,367.2 233.3,367.0 233.9,365.5 234.2,367.0 235.5,366.7 235.3,368.5 236.4,370.1 236.2,369.8 236.3,371.4 236.2,372.2 237.5,372.6 238.6,372.9 238.2,372.7 239.1,375.0 239.6,375.3 240.1,376.6 240.0,377.4 240.1,377.5 240.6,377.8 241.1,379.6 241.6,379.5 242.3,380.4 243.0,379.8 243.5,381.0 243.6,380.7 244.0,381.5 244.7,381.6 245.2,382.0 245.4,382.0" fill="none" stroke="#000" stroke-width="2.5" stroke-linejoin="round"/>
</g>
<path d="M167.90,319.30 H256.50 V382.00" fill="none" stroke="#000" stroke-width="1.3"/>
<path d="M167.90,318.80 V382.00 H257.00" fill="none" stroke="#000" stroke-width="1.5"/>
<path d="M164.50,382.00 H167.90 M165.70,378.08 H167.90 M165.70,374.16 H167.90 M165.70,370.24 H167.90 M164.50,366.32 H167.90 M165.70,362.41 H167.90 M165.70,358.49 H167.90 M165.70,354.57 H167.90 M164.50,350.65 H167.90 M165.70,346.73 H167.90 M165.70,342.81 H167.90 M165.70,338.89 H167.90 M164.50,334.98 H167.90 M165.70,331.06 H167.90 M165.70,327.14 H167.90 M165.70,323.22 H167.90 M164.50,319.30 H167.90 M167.90,382.00 V385.60 M174.57,382.00 V384.60 M178.47,382.00 V384.60 M181.24,382.00 V384.60 M183.38,382.00 V384.60 M185.14,382.00 V384.60 M186.62,382.00 V384.60 M187.90,382.00 V384.60 M189.04,382.00 V384.60 M190.05,382.00 V385.60 M196.72,382.00 V384.60 M200.62,382.00 V384.60 M203.39,382.00 V384.60 M205.53,382.00 V384.60 M207.29,382.00 V384.60 M208.77,382.00 V384.60 M210.05,382.00 V384.60 M211.19,382.00 V384.60 M212.20,382.00 V385.60 M218.87,382.00 V384.60 M222.77,382.00 V384.60 M225.54,382.00 V384.60 M227.68,382.00 V384.60 M229.44,382.00 V384.60 M230.92,382.00 V384.60 M232.20,382.00 V384.60 M233.34,382.00 V384.60 M234.35,382.00 V385.60 M241.02,382.00 V384.60 M244.92,382.00 V384.60 M247.69,382.00 V384.60 M249.83,382.00 V384.60 M251.59,382.00 V384.60 M253.07,382.00 V384.60 M254.35,382.00 V384.60 M255.49,382.00 V384.60 M256.50,382.00 V385.60" stroke="#000" stroke-width="1.15" fill="none"/>
<text x="163.60" y="384.50" text-anchor="end" class="tl">0</text>
<text x="163.60" y="368.82" text-anchor="end" class="tl">8</text>
<text x="163.60" y="353.15" text-anchor="end" class="tl">15</text>
<text x="163.60" y="337.48" text-anchor="end" class="tl">23</text>
<text x="163.60" y="321.80" text-anchor="end" class="tl">30</text>
<text x="168.40" y="395.90" text-anchor="end" class="tl">10</text>
<text x="168.50" y="392.10" class="sup">0</text>
<text x="190.55" y="395.90" text-anchor="end" class="tl">10</text>
<text x="190.65" y="392.10" class="sup">1</text>
<text x="212.70" y="395.90" text-anchor="end" class="tl">10</text>
<text x="212.80" y="392.10" class="sup">2</text>
<text x="234.85" y="395.90" text-anchor="end" class="tl">10</text>
<text x="234.95" y="392.10" class="sup">3</text>
<text x="257.00" y="395.90" text-anchor="end" class="tl">10</text>
<text x="257.10" y="392.10" class="sup">4</text>
<text transform="translate(141.00,353.20) rotate(-90)" text-anchor="middle" class="yl">AE-T591</text>
<path d="M147.60,382.00 V320.80 M143.70,327.10 L147.60,320.80 L151.50,327.10" fill="none" stroke="#000" stroke-width="1.1"/>
<clipPath id="c13"><rect x="297.90" y="319.30" width="88.60" height="62.70"/></clipPath>
<g clip-path="url(#c13)">
<path d="M298.6,382.0 L298.6,382.0 L299.0,356.0 L299.5,350.2 L299.9,346.6 L300.3,344.5 L300.8,342.3 L301.2,341.0 L301.7,339.8 L302.1,338.7 L302.6,337.9 L303.0,336.4 L303.4,335.8 L303.9,334.8 L304.3,334.0 L304.8,333.2 L305.2,332.4 L305.7,331.1 L306.1,329.7 L306.5,329.2 L307.0,328.6 L307.4,329.0 L307.9,328.9 L308.3,328.9 L308.8,329.0 L309.2,329.2 L309.6,329.8 L310.1,330.3 L310.5,331.2 L311.0,334.7 L311.4,339.6 L311.9,343.5 L312.3,346.6 L312.7,349.6 L313.2,352.6 L313.6,355.6 L314.1,358.4 L314.5,361.1 L315.0,364.2 L315.4,367.0 L315.8,369.8 L316.3,372.4 L316.7,375.1 L317.2,377.9 L317.6,380.5 L317.6,382.0 Z" fill="#c4c4c4"/>
<path d="M333.3,382.0 333.8,382.0 334.1,381.4 334.5,381.5 335.2,381.3 335.4,381.1 335.9,381.0 336.3,380.6 336.7,380.6 337.6,380.7 337.9,380.2 338.0,380.6 338.8,379.6 339.2,380.1 339.5,379.2 340.2,379.7 340.3,379.4 340.8,379.1 341.1,378.7 341.8,378.7 342.0,378.1 342.7,377.5 343.0,377.0 343.4,376.7 343.7,375.6 344.1,375.6 344.5,374.3 345.4,374.3 345.3,373.4 346.0,372.5 346.1,371.2 346.7,371.9 347.3,369.9 347.5,369.6 348.2,368.6 348.3,368.4 349.3,366.5 349.8,366.8 350.4,364.6 350.0,363.1 351.6,362.4 351.2,361.8 352.5,360.5 352.5,358.3 352.4,357.4 352.8,356.3 353.0,355.5 353.5,354.9 354.8,355.2 355.5,352.7 355.5,352.8 355.7,353.6 356.3,352.8 357.4,352.4 357.8,352.4 357.4,352.8 357.4,353.3 358.4,352.8 359.6,353.8 358.8,355.4 359.3,354.3 360.1,355.1 360.9,355.3 360.5,353.2 362.3,353.3 362.1,352.6 362.3,352.7 362.6,353.2 363.7,352.4 363.9,352.3 364.3,351.6 365.0,350.1 365.9,350.4 365.1,348.4 366.6,349.6 366.3,350.1 366.7,352.1 366.8,350.9 368.2,352.2 368.7,353.9 369.6,357.5 369.1,358.9 370.2,360.2 369.8,362.4 370.0,364.6 371.6,365.8 371.2,368.2 371.8,370.7 371.9,371.4 372.6,373.9 373.0,376.7 373.9,378.2 374.4,379.1 374.5,380.5 375.0,380.9 375.4,382.0" fill="none" stroke="#8a8a8a" stroke-width="2.2" stroke-linejoin="round"/>
<path d="M322.3,382.0 322.7,382.0 323.1,381.5 323.4,381.7 323.7,381.8 324.3,381.9 325.0,381.1 325.6,381.2 325.8,381.4 326.1,381.6 326.8,381.5 327.4,381.1 327.8,380.5 328.2,380.6 328.2,380.5 329.2,380.8 329.3,380.5 329.6,380.7 329.9,380.6 330.8,380.4 330.9,380.2 331.7,379.8 332.3,380.1 332.2,380.3 333.2,380.4 333.5,380.2 333.9,380.0 334.3,379.9 334.4,379.4 335.2,379.7 335.6,378.9 336.0,379.3 336.7,379.3 337.1,378.7 337.4,378.6 338.1,378.2 338.5,377.9 338.8,377.4 339.2,377.6 339.2,376.5 339.9,376.0 340.7,376.0 340.8,375.6 341.4,374.1 341.3,374.1 341.8,372.5 342.4,372.1 342.8,372.7 343.3,372.0 344.5,369.9 343.9,369.1 344.3,368.4 344.9,368.3 345.1,367.0 345.6,367.5 346.7,365.6 347.3,366.2 347.8,364.7 348.5,363.7 347.7,360.7 348.9,360.4 349.8,358.6 350.1,356.1 350.0,355.4 350.2,353.7 351.2,353.4 351.1,353.2 351.2,351.4 351.8,350.2 353.7,349.8 353.8,347.2 353.4,346.5 354.1,345.7 355.0,345.5 354.9,346.9 355.0,347.6 355.7,346.8 357.1,346.3 356.1,347.2 357.8,350.0 357.6,349.7 357.3,349.4 358.1,351.3 359.8,350.8 359.2,351.0 360.4,353.7 360.8,352.2 361.0,353.9 361.8,355.3 362.2,354.5 362.2,354.4 362.8,355.7 362.2,354.8 363.2,356.5 363.5,356.1 364.2,357.2 365.0,358.8 365.7,359.0 365.7,359.6 366.5,361.5 367.2,362.6 367.1,363.2 367.1,363.5 367.9,365.4 367.7,367.8 369.1,367.9 369.7,369.5 370.0,370.2 370.2,372.1 370.5,372.9 371.2,375.6 371.4,376.7 372.0,377.3 372.5,378.9 372.7,379.9 373.0,380.8 373.4,381.6 374.2,382.0" fill="none" stroke="#000" stroke-width="2.5" stroke-linejoin="round"/>
</g>
<path d="M297.90,319.30 H386.50 V382.00" fill="none" stroke="#000" stroke-width="1.3"/>
<path d="M297.90,318.80 V382.00 H387.00" fill="none" stroke="#000" stroke-width="1.5"/>
<path d="M294.50,382.00 H297.90 M295.70,378.08 H297.90 M295.70,374.16 H297.90 M295.70,370.24 H297.90 M294.50,366.32 H297.90 M295.70,362.41 H297.90 M295.70,358.49 H297.90 M295.70,354.57 H297.90 M294.50,350.65 H297.90 M295.70,346.73 H297.90 M295.70,342.81 H297.90 M295.70,338.89 H297.90 M294.50,334.98 H297.90 M295.70,331.06 H297.90 M295.70,327.14 H297.90 M295.70,323.22 H297.90 M294.50,319.30 H297.90 M297.90,382.00 V385.60 M304.57,382.00 V384.60 M308.47,382.00 V384.60 M311.24,382.00 V384.60 M313.38,382.00 V384.60 M315.14,382.00 V384.60 M316.62,382.00 V384.60 M317.90,382.00 V384.60 M319.04,382.00 V384.60 M320.05,382.00 V385.60 M326.72,382.00 V384.60 M330.62,382.00 V384.60 M333.39,382.00 V384.60 M335.53,382.00 V384.60 M337.29,382.00 V384.60 M338.77,382.00 V384.60 M340.05,382.00 V384.60 M341.19,382.00 V384.60 M342.20,382.00 V385.60 M348.87,382.00 V384.60 M352.77,382.00 V384.60 M355.54,382.00 V384.60 M357.68,382.00 V384.60 M359.44,382.00 V384.60 M360.92,382.00 V384.60 M362.20,382.00 V384.60 M363.34,382.00 V384.60 M364.35,382.00 V385.60 M371.02,382.00 V384.60 M374.92,382.00 V384.60 M377.69,382.00 V384.60 M379.83,382.00 V384.60 M381.59,382.00 V384.60 M383.07,382.00 V384.60 M384.35,382.00 V384.60 M385.49,382.00 V384.60 M386.50,382.00 V385.60" stroke="#000" stroke-width="1.15" fill="none"/>
<text x="293.60" y="384.50" text-anchor="end" class="tl">0</text>
<text x="293.60" y="368.82" text-anchor="end" class="tl">8</text>
<text x="293.60" y="353.15" text-anchor="end" class="tl">15</text>
<text x="293.60" y="337.48" text-anchor="end" class="tl">23</text>
<text x="293.60" y="321.80" text-anchor="end" class="tl">30</text>
<text x="298.40" y="395.90" text-anchor="end" class="tl">10</text>
<text x="298.50" y="392.10" class="sup">0</text>
<text x="320.55" y="395.90" text-anchor="end" class="tl">10</text>
<text x="320.65" y="392.10" class="sup">1</text>
<text x="342.70" y="395.90" text-anchor="end" class="tl">10</text>
<text x="342.80" y="392.10" class="sup">2</text>
<text x="364.85" y="395.90" text-anchor="end" class="tl">10</text>
<text x="364.95" y="392.10" class="sup">3</text>
<text x="387.00" y="395.90" text-anchor="end" class="tl">10</text>
<text x="387.10" y="392.10" class="sup">4</text>
<text transform="translate(271.00,352.70) rotate(-90)" text-anchor="middle" class="yl">AE-C663S</text>
<path d="M277.70,382.00 V320.80 M273.80,327.10 L277.70,320.80 L281.60,327.10" fill="none" stroke="#000" stroke-width="1.1"/>
<clipPath id="c14"><rect x="428.30" y="319.30" width="88.60" height="62.70"/></clipPath>
<g clip-path="url(#c14)">
<path d="M429.2,382.0 L429.2,382.0 L429.6,352.3 L430.1,347.5 L430.5,344.1 L431.0,341.5 L431.4,338.4 L431.8,335.9 L432.3,333.9 L432.7,331.6 L433.2,329.2 L433.6,327.6 L434.1,325.7 L434.5,324.5 L434.9,322.8 L435.4,322.0 L435.8,322.0 L436.3,321.1 L436.7,320.6 L437.2,320.7 L437.6,320.3 L438.0,319.9 L438.5,320.2 L438.9,320.3 L439.4,320.0 L439.8,320.5 L440.3,320.3 L440.7,320.9 L441.1,321.5 L441.6,323.0 L442.0,325.6 L442.5,327.6 L442.9,330.8 L443.4,333.6 L443.8,336.9 L444.2,340.1 L444.7,342.8 L445.1,345.3 L445.6,348.5 L446.0,351.4 L446.5,354.0 L446.9,356.9 L447.3,360.2 L447.8,363.0 L448.2,365.7 L448.7,368.6 L449.1,371.0 L449.6,373.4 L450.0,375.1 L450.4,376.9 L450.9,379.1 L451.3,380.9 L451.3,382.0 Z" fill="#c4c4c4"/>
<path d="M461.5,382.0 461.7,381.6 462.2,381.9 462.6,381.5 463.4,381.3 463.7,381.2 464.1,381.0 464.4,381.0 464.9,380.7 465.8,380.9 465.8,380.0 466.4,380.4 467.0,379.5 467.2,380.2 467.8,379.4 468.0,379.8 468.4,378.9 469.0,379.0 469.4,378.4 469.8,377.9 470.4,378.4 471.1,377.4 471.1,377.1 471.5,376.5 472.0,376.2 472.5,376.4 473.1,375.4 473.4,375.6 473.8,375.0 474.4,374.3 475.0,374.3 475.5,373.3 475.6,372.5 476.2,372.7 476.4,371.9 477.1,371.4 477.8,369.8 477.8,369.4 478.0,368.3 479.0,367.3 479.0,366.1 479.7,365.3 480.4,363.8 480.4,361.9 480.6,360.5 481.0,358.2 481.5,357.4 482.0,355.7 483.0,354.2 483.8,352.4 483.8,352.2 484.0,350.0 484.5,349.9 485.5,350.9 485.7,348.4 485.9,349.9 486.8,347.6 487.5,347.9 487.7,348.5 487.0,348.1 487.8,347.2 488.4,344.9 488.3,345.3 489.9,344.3 489.9,343.7 491.0,342.5 491.0,341.6 490.4,341.8 491.2,341.9 492.8,341.0 493.1,339.9 492.9,337.5 494.1,336.1 493.3,333.9 494.8,334.7 495.5,332.5 495.7,330.5 496.3,328.8 496.0,326.6 497.0,327.1 497.2,326.4 497.3,328.3 497.1,327.8 498.3,331.9 498.8,333.5 498.7,335.6 499.2,339.2 499.7,344.3 501.0,346.2 500.3,350.9 501.6,354.6 502.2,357.6 502.0,360.2 502.9,363.6 502.9,366.2 503.8,368.0 504.1,370.2 504.7,372.2 504.9,373.8 505.3,375.9 505.9,376.8 506.5,378.1 506.9,379.3 507.0,380.5 507.7,381.2 508.0,382.0" fill="none" stroke="#8a8a8a" stroke-width="2.2" stroke-linejoin="round"/>
<path d="M450.4,382.0 451.0,381.9 451.6,381.7 452.0,381.4 452.2,381.2 452.4,381.2 453.4,381.7 453.5,381.3 454.1,381.4 454.3,381.2 454.9,381.7 455.5,381.1 455.7,381.7 456.1,380.6 456.4,381.4 457.3,380.6 457.8,380.4 457.9,380.4 458.2,380.7 458.8,380.7 459.5,380.6 460.0,379.7 460.0,380.4 460.5,380.0 461.2,379.7 461.5,379.4 462.2,378.9 462.6,379.3 463.0,378.5 463.3,378.3 464.0,378.2 464.2,377.8 464.6,377.9 465.2,377.2 465.4,377.8 465.8,377.4 466.4,376.4 467.0,376.8 466.9,375.9 467.4,375.2 468.1,374.1 468.3,373.8 469.3,373.6 469.9,373.6 469.6,372.3 470.3,372.6 471.1,371.0 471.7,370.9 472.2,370.6 472.6,369.2 472.8,369.4 472.8,368.5 473.1,368.0 473.5,368.7 474.5,366.7 474.5,365.9 474.9,365.2 476.0,363.7 475.9,363.7 476.7,362.2 477.7,358.2 477.9,355.9 477.1,355.6 478.2,354.1 479.5,351.6 478.8,349.9 480.4,347.2 480.5,346.8 481.4,345.9 481.8,345.4 482.2,342.8 481.2,341.0 481.5,340.8 482.5,340.8 482.9,338.1 483.7,336.7 483.2,336.9 484.1,334.4 484.9,335.5 486.2,333.6 485.7,333.6 485.9,334.3 486.4,336.2 487.3,336.8 488.1,338.7 488.9,338.9 489.3,341.2 488.9,341.1 490.1,340.5 490.3,341.1 490.1,341.1 491.2,340.2 491.2,341.3 492.2,342.8 492.4,343.8 493.3,342.1 492.8,342.1 494.0,345.3 494.5,345.0 493.5,344.6 495.5,345.9 494.9,346.2 495.1,348.8 495.4,351.2 497.3,350.5 496.5,352.1 498.0,355.0 498.0,356.8 498.5,359.9 498.1,361.8 498.6,362.9 499.0,365.4 500.0,365.8 500.0,368.7 500.5,370.3 501.0,371.3 502.1,373.1 502.1,374.3 503.1,374.6 503.5,376.2 503.9,376.6 504.2,377.8 504.7,378.5 504.8,379.2 505.1,379.9 505.7,380.7 506.5,380.8 506.6,381.7" fill="none" stroke="#000" stroke-width="2.5" stroke-linejoin="round"/>
</g>
<path d="M428.30,319.30 H516.90 V382.00" fill="none" stroke="#000" stroke-width="1.3"/>
<path d="M428.30,318.80 V382.00 H517.40" fill="none" stroke="#000" stroke-width="1.5"/>
<path d="M424.90,382.00 H428.30 M426.10,378.08 H428.30 M426.10,374.16 H428.30 M426.10,370.24 H428.30 M424.90,366.32 H428.30 M426.10,362.41 H428.30 M426.10,358.49 H428.30 M426.10,354.57 H428.30 M424.90,350.65 H428.30 M426.10,346.73 H428.30 M426.10,342.81 H428.30 M426.10,338.89 H428.30 M424.90,334.98 H428.30 M426.10,331.06 H428.30 M426.10,327.14 H428.30 M426.10,323.22 H428.30 M424.90,319.30 H428.30 M428.30,382.00 V385.60 M434.97,382.00 V384.60 M438.87,382.00 V384.60 M441.64,382.00 V384.60 M443.78,382.00 V384.60 M445.54,382.00 V384.60 M447.02,382.00 V384.60 M448.30,382.00 V384.60 M449.44,382.00 V384.60 M450.45,382.00 V385.60 M457.12,382.00 V384.60 M461.02,382.00 V384.60 M463.79,382.00 V384.60 M465.93,382.00 V384.60 M467.69,382.00 V384.60 M469.17,382.00 V384.60 M470.45,382.00 V384.60 M471.59,382.00 V384.60 M472.60,382.00 V385.60 M479.27,382.00 V384.60 M483.17,382.00 V384.60 M485.94,382.00 V384.60 M488.08,382.00 V384.60 M489.84,382.00 V384.60 M491.32,382.00 V384.60 M492.60,382.00 V384.60 M493.74,382.00 V384.60 M494.75,382.00 V385.60 M501.42,382.00 V384.60 M505.32,382.00 V384.60 M508.09,382.00 V384.60 M510.23,382.00 V384.60 M511.99,382.00 V384.60 M513.47,382.00 V384.60 M514.75,382.00 V384.60 M515.89,382.00 V384.60 M516.90,382.00 V385.60" stroke="#000" stroke-width="1.15" fill="none"/>
<text x="424.00" y="384.50" text-anchor="end" class="tl">0</text>
<text x="424.00" y="368.82" text-anchor="end" class="tl">8</text>
<text x="424.00" y="353.15" text-anchor="end" class="tl">15</text>
<text x="424.00" y="337.48" text-anchor="end" class="tl">23</text>
<text x="424.00" y="321.80" text-anchor="end" class="tl">30</text>
<text x="428.80" y="395.90" text-anchor="end" class="tl">10</text>
<text x="428.90" y="392.10" class="sup">0</text>
<text x="450.95" y="395.90" text-anchor="end" class="tl">10</text>
<text x="451.05" y="392.10" class="sup">1</text>
<text x="473.10" y="395.90" text-anchor="end" class="tl">10</text>
<text x="473.20" y="392.10" class="sup">2</text>
<text x="495.25" y="395.90" text-anchor="end" class="tl">10</text>
<text x="495.35" y="392.10" class="sup">3</text>
<text x="517.40" y="395.90" text-anchor="end" class="tl">10</text>
<text x="517.50" y="392.10" class="sup">4</text>
<text transform="translate(401.20,352.20) rotate(-90)" text-anchor="middle" class="yl">AE-C683S</text>
<path d="M408.10,382.00 V320.80 M404.20,327.10 L408.10,320.80 L412.00,327.10" fill="none" stroke="#000" stroke-width="1.1"/>
<text x="39.2" y="12.1" class="big">TSA</text>
<text x="297.3" y="11.9" class="big" style="font-size:16.3px">Sodium valproate</text>
<text x="38.0" y="109.5" class="big">Mocetinostat</text>
<text x="296.5" y="109.3" class="big">Entinostat</text>
<text x="0.3" y="17.9" class="let">A</text>
<text x="258.8" y="17.9" class="let">B</text>
<text x="1.4" y="117.3" class="let">C</text>
<text x="259.0" y="116.7" class="let">D</text>
<text x="1.4" y="223.9" class="let">E</text>
<text x="-0.3" y="314.2" class="let">F</text>
<path d="M36,205 H248.5 M304,205 H516.5 M510,201.2 L517,205 L510,208.8" fill="none" stroke="#111" stroke-width="1.5"/>
<path d="M36,407.7 H248.3 M305,407.7 H517.3 M510.3,403.9 L517.3,407.7 L510.3,411.5" fill="none" stroke="#111" stroke-width="1.5"/>
<text x="261.4" y="209.9" class="cd">CD48</text>
<text x="261.8" y="412.6" class="cd">CD48</text>
<rect x="336.3" y="223.1" width="9" height="8.8" fill="#8a8a8a"/>
<rect x="336.3" y="247.5" width="9" height="8.8" fill="#000"/>
<rect x="336.3" y="271.7" width="9" height="8.8" fill="#0a0ae6"/>
<text x="358" y="233.0" class="lg">empty vector</text>
<text x="358" y="256.5" class="lg">+fusion protein</text>
<text x="358" y="281.1" class="lg">+HDACi</text>

</svg>
</body></html>
